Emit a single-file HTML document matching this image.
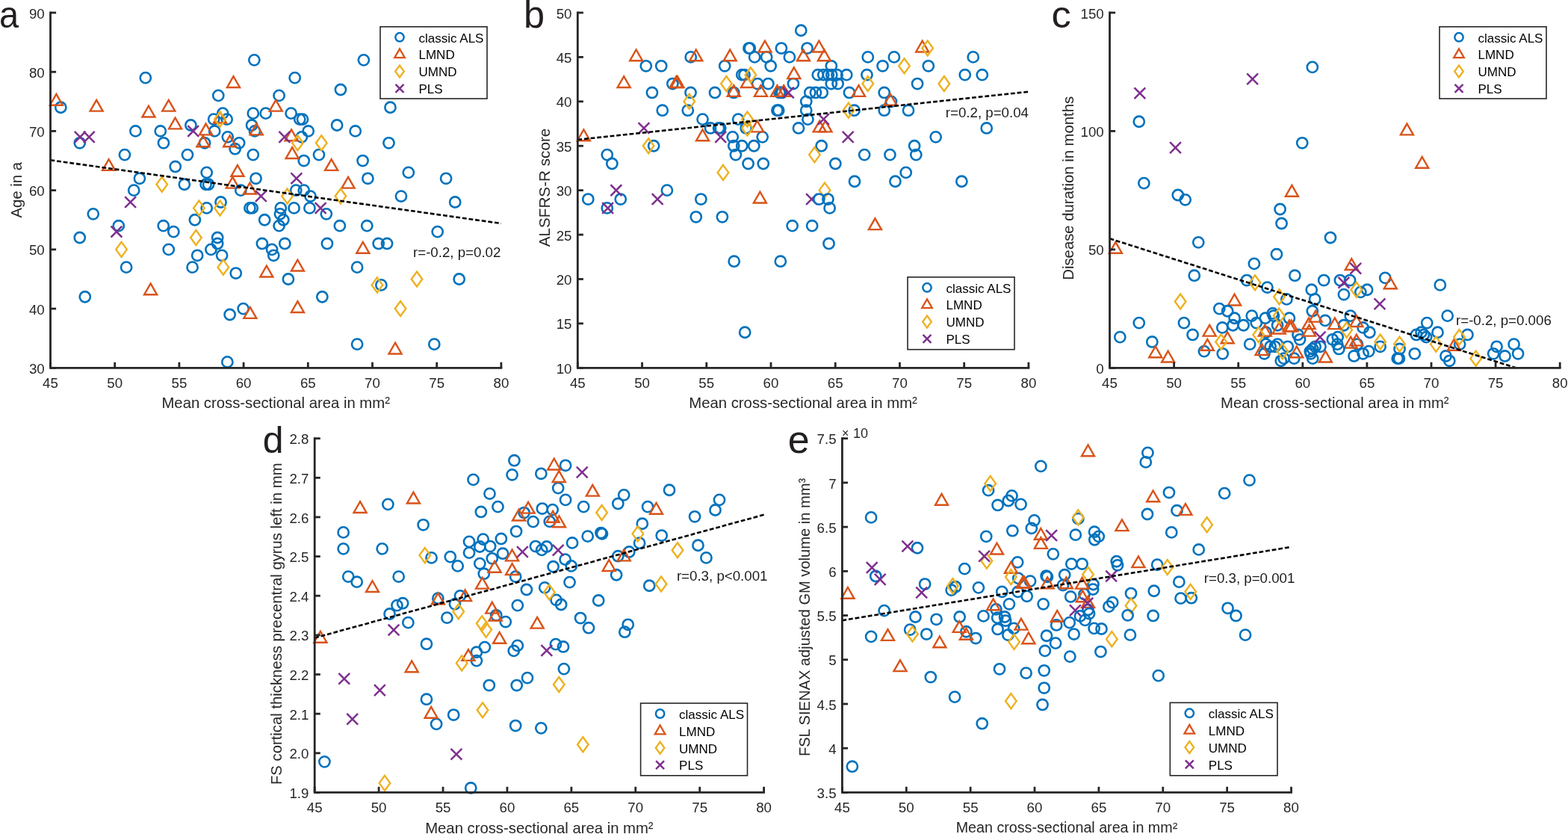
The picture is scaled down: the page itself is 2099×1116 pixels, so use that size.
<!DOCTYPE html>
<html><head><meta charset="utf-8"><title>Figure</title>
<style>html,body{margin:0;padding:0;background:#fff;} svg{display:block;}</style>
</head><body>
<svg width="2099" height="1116" viewBox="0 0 2099 1116" font-family="'Liberation Sans', Arial, sans-serif">
<rect width="2099" height="1116" fill="#fff"/>
<g><circle cx="81.30" cy="143.75" r="7.10" stroke="#0072BD" stroke-width="2.6" fill="none"/>
<circle cx="106.76" cy="191.28" r="7.10" stroke="#0072BD" stroke-width="2.6" fill="none"/>
<circle cx="194.80" cy="104.14" r="7.10" stroke="#0072BD" stroke-width="2.6" fill="none"/>
<circle cx="181.41" cy="175.43" r="7.10" stroke="#0072BD" stroke-width="2.6" fill="none"/>
<circle cx="166.92" cy="207.12" r="7.10" stroke="#0072BD" stroke-width="2.6" fill="none"/>
<circle cx="186.89" cy="238.81" r="7.10" stroke="#0072BD" stroke-width="2.6" fill="none"/>
<circle cx="179.21" cy="254.65" r="7.10" stroke="#0072BD" stroke-width="2.6" fill="none"/>
<circle cx="214.77" cy="175.43" r="7.10" stroke="#0072BD" stroke-width="2.6" fill="none"/>
<circle cx="218.95" cy="191.28" r="7.10" stroke="#0072BD" stroke-width="2.6" fill="none"/>
<circle cx="234.75" cy="222.96" r="7.10" stroke="#0072BD" stroke-width="2.6" fill="none"/>
<circle cx="246.83" cy="246.73" r="7.10" stroke="#0072BD" stroke-width="2.6" fill="none"/>
<circle cx="255.39" cy="167.51" r="7.10" stroke="#0072BD" stroke-width="2.6" fill="none"/>
<circle cx="251.00" cy="207.12" r="7.10" stroke="#0072BD" stroke-width="2.6" fill="none"/>
<circle cx="276.68" cy="230.88" r="7.10" stroke="#0072BD" stroke-width="2.6" fill="none"/>
<circle cx="275.59" cy="246.73" r="7.10" stroke="#0072BD" stroke-width="2.6" fill="none"/>
<circle cx="279.10" cy="246.73" r="7.10" stroke="#0072BD" stroke-width="2.6" fill="none"/>
<circle cx="274.05" cy="191.28" r="7.10" stroke="#0072BD" stroke-width="2.6" fill="none"/>
<circle cx="287.22" cy="175.43" r="7.10" stroke="#0072BD" stroke-width="2.6" fill="none"/>
<circle cx="286.13" cy="159.59" r="7.10" stroke="#0072BD" stroke-width="2.6" fill="none"/>
<circle cx="298.20" cy="151.67" r="7.10" stroke="#0072BD" stroke-width="2.6" fill="none"/>
<circle cx="303.69" cy="159.59" r="7.10" stroke="#0072BD" stroke-width="2.6" fill="none"/>
<circle cx="292.27" cy="127.90" r="7.10" stroke="#0072BD" stroke-width="2.6" fill="none"/>
<circle cx="304.79" cy="183.36" r="7.10" stroke="#0072BD" stroke-width="2.6" fill="none"/>
<circle cx="314.67" cy="199.20" r="7.10" stroke="#0072BD" stroke-width="2.6" fill="none"/>
<circle cx="320.15" cy="191.28" r="7.10" stroke="#0072BD" stroke-width="2.6" fill="none"/>
<circle cx="338.81" cy="151.67" r="7.10" stroke="#0072BD" stroke-width="2.6" fill="none"/>
<circle cx="337.06" cy="167.51" r="7.10" stroke="#0072BD" stroke-width="2.6" fill="none"/>
<circle cx="341.01" cy="175.43" r="7.10" stroke="#0072BD" stroke-width="2.6" fill="none"/>
<circle cx="340.35" cy="80.37" r="7.10" stroke="#0072BD" stroke-width="2.6" fill="none"/>
<circle cx="355.72" cy="151.67" r="7.10" stroke="#0072BD" stroke-width="2.6" fill="none"/>
<circle cx="338.81" cy="207.12" r="7.10" stroke="#0072BD" stroke-width="2.6" fill="none"/>
<circle cx="342.55" cy="238.81" r="7.10" stroke="#0072BD" stroke-width="2.6" fill="none"/>
<path d="M75.37 125.92L83.87 140.72L66.87 140.72Z" stroke="#D95319" stroke-width="2.4" fill="none" stroke-linejoin="miter" stroke-miterlimit="10"/>
<path d="M129.15 133.85L137.65 148.65L120.65 148.65Z" stroke="#D95319" stroke-width="2.4" fill="none" stroke-linejoin="miter" stroke-miterlimit="10"/>
<path d="M198.97 141.77L207.47 156.57L190.47 156.57Z" stroke="#D95319" stroke-width="2.4" fill="none" stroke-linejoin="miter" stroke-miterlimit="10"/>
<path d="M225.75 133.85L234.25 148.65L217.25 148.65Z" stroke="#D95319" stroke-width="2.4" fill="none" stroke-linejoin="miter" stroke-miterlimit="10"/>
<path d="M234.53 157.61L243.03 172.41L226.03 172.41Z" stroke="#D95319" stroke-width="2.4" fill="none" stroke-linejoin="miter" stroke-miterlimit="10"/>
<path d="M145.62 213.06L154.12 227.86L137.12 227.86Z" stroke="#D95319" stroke-width="2.4" fill="none" stroke-linejoin="miter" stroke-miterlimit="10"/>
<path d="M312.47 102.16L320.97 116.96L303.97 116.96Z" stroke="#D95319" stroke-width="2.4" fill="none" stroke-linejoin="miter" stroke-miterlimit="10"/>
<path d="M275.59 165.53L284.09 180.33L267.09 180.33Z" stroke="#D95319" stroke-width="2.4" fill="none" stroke-linejoin="miter" stroke-miterlimit="10"/>
<path d="M271.86 181.38L280.36 196.18L263.36 196.18Z" stroke="#D95319" stroke-width="2.4" fill="none" stroke-linejoin="miter" stroke-miterlimit="10"/>
<path d="M294.47 149.69L302.97 164.49L285.97 164.49Z" stroke="#D95319" stroke-width="2.4" fill="none" stroke-linejoin="miter" stroke-miterlimit="10"/>
<path d="M307.64 181.38L316.14 196.18L299.14 196.18Z" stroke="#D95319" stroke-width="2.4" fill="none" stroke-linejoin="miter" stroke-miterlimit="10"/>
<path d="M343.21 165.53L351.71 180.33L334.71 180.33Z" stroke="#D95319" stroke-width="2.4" fill="none" stroke-linejoin="miter" stroke-miterlimit="10"/>
<path d="M317.96 220.98L326.46 235.78L309.46 235.78Z" stroke="#D95319" stroke-width="2.4" fill="none" stroke-linejoin="miter" stroke-miterlimit="10"/>
<path d="M311.37 236.83L319.87 251.63L302.87 251.63Z" stroke="#D95319" stroke-width="2.4" fill="none" stroke-linejoin="miter" stroke-miterlimit="10"/>
<path d="M294.47 149.59L301.77 159.59L294.47 169.59L287.17 159.59Z" stroke="#EDB120" stroke-width="2.4" fill="none" stroke-linejoin="miter" stroke-miterlimit="10"/>
<path d="M216.75 236.73L224.05 246.73L216.75 256.73L209.45 246.73Z" stroke="#EDB120" stroke-width="2.4" fill="none" stroke-linejoin="miter" stroke-miterlimit="10"/>
<path d="M99.80 175.96L114.60 190.76M114.60 175.96L99.80 190.76" stroke="#7E2F8E" stroke-width="2.5" fill="none"/>
<path d="M111.88 175.96L126.68 190.76M126.68 175.96L111.88 190.76" stroke="#7E2F8E" stroke-width="2.5" fill="none"/>
<path d="M251.28 168.03L266.08 182.83M266.08 168.03L251.28 182.83" stroke="#7E2F8E" stroke-width="2.5" fill="none"/>
<circle cx="373.61" cy="127.90" r="7.10" stroke="#0072BD" stroke-width="2.6" fill="none"/>
<circle cx="394.69" cy="104.14" r="7.10" stroke="#0072BD" stroke-width="2.6" fill="none"/>
<circle cx="389.64" cy="151.67" r="7.10" stroke="#0072BD" stroke-width="2.6" fill="none"/>
<circle cx="401.27" cy="159.59" r="7.10" stroke="#0072BD" stroke-width="2.6" fill="none"/>
<circle cx="405.01" cy="159.59" r="7.10" stroke="#0072BD" stroke-width="2.6" fill="none"/>
<circle cx="412.69" cy="175.43" r="7.10" stroke="#0072BD" stroke-width="2.6" fill="none"/>
<circle cx="403.91" cy="183.36" r="7.10" stroke="#0072BD" stroke-width="2.6" fill="none"/>
<circle cx="406.76" cy="215.04" r="7.10" stroke="#0072BD" stroke-width="2.6" fill="none"/>
<circle cx="426.96" cy="207.12" r="7.10" stroke="#0072BD" stroke-width="2.6" fill="none"/>
<circle cx="451.11" cy="167.51" r="7.10" stroke="#0072BD" stroke-width="2.6" fill="none"/>
<circle cx="455.94" cy="119.98" r="7.10" stroke="#0072BD" stroke-width="2.6" fill="none"/>
<circle cx="475.70" cy="175.43" r="7.10" stroke="#0072BD" stroke-width="2.6" fill="none"/>
<circle cx="486.89" cy="80.37" r="7.10" stroke="#0072BD" stroke-width="2.6" fill="none"/>
<circle cx="522.46" cy="143.75" r="7.10" stroke="#0072BD" stroke-width="2.6" fill="none"/>
<circle cx="520.48" cy="191.28" r="7.10" stroke="#0072BD" stroke-width="2.6" fill="none"/>
<circle cx="485.58" cy="215.04" r="7.10" stroke="#0072BD" stroke-width="2.6" fill="none"/>
<circle cx="492.38" cy="238.81" r="7.10" stroke="#0072BD" stroke-width="2.6" fill="none"/>
<circle cx="546.83" cy="230.88" r="7.10" stroke="#0072BD" stroke-width="2.6" fill="none"/>
<circle cx="597.10" cy="238.81" r="7.10" stroke="#0072BD" stroke-width="2.6" fill="none"/>
<path d="M369.22 133.85L377.72 148.65L360.72 148.65Z" stroke="#D95319" stroke-width="2.4" fill="none" stroke-linejoin="miter" stroke-miterlimit="10"/>
<path d="M390.08 173.46L398.58 188.26L381.58 188.26Z" stroke="#D95319" stroke-width="2.4" fill="none" stroke-linejoin="miter" stroke-miterlimit="10"/>
<path d="M391.17 197.22L399.67 212.02L382.67 212.02Z" stroke="#D95319" stroke-width="2.4" fill="none" stroke-linejoin="miter" stroke-miterlimit="10"/>
<path d="M443.64 213.06L452.14 227.86L435.14 227.86Z" stroke="#D95319" stroke-width="2.4" fill="none" stroke-linejoin="miter" stroke-miterlimit="10"/>
<path d="M466.04 236.83L474.54 251.63L457.54 251.63Z" stroke="#D95319" stroke-width="2.4" fill="none" stroke-linejoin="miter" stroke-miterlimit="10"/>
<path d="M398.42 181.28L405.72 191.28L398.42 201.28L391.12 191.28Z" stroke="#EDB120" stroke-width="2.4" fill="none" stroke-linejoin="miter" stroke-miterlimit="10"/>
<path d="M430.25 181.28L437.55 191.28L430.25 201.28L422.95 191.28Z" stroke="#EDB120" stroke-width="2.4" fill="none" stroke-linejoin="miter" stroke-miterlimit="10"/>
<path d="M373.46 175.96L388.26 190.76M388.26 175.96L373.46 190.76" stroke="#7E2F8E" stroke-width="2.5" fill="none"/>
<path d="M389.48 231.41L404.28 246.21M404.28 231.41L389.48 246.21" stroke="#7E2F8E" stroke-width="2.5" fill="none"/>
<circle cx="322.35" cy="254.65" r="7.10" stroke="#0072BD" stroke-width="2.6" fill="none"/>
<circle cx="124.76" cy="286.34" r="7.10" stroke="#0072BD" stroke-width="2.6" fill="none"/>
<circle cx="106.76" cy="318.02" r="7.10" stroke="#0072BD" stroke-width="2.6" fill="none"/>
<circle cx="158.79" cy="302.18" r="7.10" stroke="#0072BD" stroke-width="2.6" fill="none"/>
<circle cx="169.11" cy="357.63" r="7.10" stroke="#0072BD" stroke-width="2.6" fill="none"/>
<circle cx="113.79" cy="397.24" r="7.10" stroke="#0072BD" stroke-width="2.6" fill="none"/>
<circle cx="218.73" cy="302.18" r="7.10" stroke="#0072BD" stroke-width="2.6" fill="none"/>
<circle cx="232.34" cy="310.10" r="7.10" stroke="#0072BD" stroke-width="2.6" fill="none"/>
<circle cx="225.75" cy="333.87" r="7.10" stroke="#0072BD" stroke-width="2.6" fill="none"/>
<circle cx="260.88" cy="294.26" r="7.10" stroke="#0072BD" stroke-width="2.6" fill="none"/>
<circle cx="276.68" cy="278.42" r="7.10" stroke="#0072BD" stroke-width="2.6" fill="none"/>
<circle cx="295.57" cy="270.49" r="7.10" stroke="#0072BD" stroke-width="2.6" fill="none"/>
<circle cx="291.17" cy="318.02" r="7.10" stroke="#0072BD" stroke-width="2.6" fill="none"/>
<circle cx="291.17" cy="325.94" r="7.10" stroke="#0072BD" stroke-width="2.6" fill="none"/>
<circle cx="282.39" cy="333.87" r="7.10" stroke="#0072BD" stroke-width="2.6" fill="none"/>
<circle cx="297.10" cy="341.79" r="7.10" stroke="#0072BD" stroke-width="2.6" fill="none"/>
<circle cx="264.17" cy="341.79" r="7.10" stroke="#0072BD" stroke-width="2.6" fill="none"/>
<circle cx="257.59" cy="357.63" r="7.10" stroke="#0072BD" stroke-width="2.6" fill="none"/>
<circle cx="315.76" cy="365.55" r="7.10" stroke="#0072BD" stroke-width="2.6" fill="none"/>
<circle cx="334.42" cy="278.42" r="7.10" stroke="#0072BD" stroke-width="2.6" fill="none"/>
<circle cx="337.72" cy="278.42" r="7.10" stroke="#0072BD" stroke-width="2.6" fill="none"/>
<circle cx="354.18" cy="294.26" r="7.10" stroke="#0072BD" stroke-width="2.6" fill="none"/>
<circle cx="350.89" cy="325.94" r="7.10" stroke="#0072BD" stroke-width="2.6" fill="none"/>
<circle cx="364.06" cy="333.87" r="7.10" stroke="#0072BD" stroke-width="2.6" fill="none"/>
<circle cx="366.26" cy="341.79" r="7.10" stroke="#0072BD" stroke-width="2.6" fill="none"/>
<circle cx="307.64" cy="421.00" r="7.10" stroke="#0072BD" stroke-width="2.6" fill="none"/>
<circle cx="325.64" cy="413.08" r="7.10" stroke="#0072BD" stroke-width="2.6" fill="none"/>
<circle cx="304.35" cy="484.38" r="7.10" stroke="#0072BD" stroke-width="2.6" fill="none"/>
<path d="M201.60 379.42L210.10 394.22L193.10 394.22Z" stroke="#D95319" stroke-width="2.4" fill="none" stroke-linejoin="miter" stroke-miterlimit="10"/>
<path d="M356.82 355.65L365.32 370.45L348.32 370.45Z" stroke="#D95319" stroke-width="2.4" fill="none" stroke-linejoin="miter" stroke-miterlimit="10"/>
<path d="M334.86 411.11L343.36 425.90L326.36 425.90Z" stroke="#D95319" stroke-width="2.4" fill="none" stroke-linejoin="miter" stroke-miterlimit="10"/>
<path d="M334.42 244.75L342.92 259.55L325.92 259.55Z" stroke="#D95319" stroke-width="2.4" fill="none" stroke-linejoin="miter" stroke-miterlimit="10"/>
<path d="M162.52 323.87L169.82 333.87L162.52 343.87L155.22 333.87Z" stroke="#EDB120" stroke-width="2.4" fill="none" stroke-linejoin="miter" stroke-miterlimit="10"/>
<path d="M266.37 268.42L273.67 278.42L266.37 288.42L259.07 278.42Z" stroke="#EDB120" stroke-width="2.4" fill="none" stroke-linejoin="miter" stroke-miterlimit="10"/>
<path d="M294.47 268.42L301.77 278.42L294.47 288.42L287.17 278.42Z" stroke="#EDB120" stroke-width="2.4" fill="none" stroke-linejoin="miter" stroke-miterlimit="10"/>
<path d="M262.41 308.02L269.71 318.02L262.41 328.02L255.11 318.02Z" stroke="#EDB120" stroke-width="2.4" fill="none" stroke-linejoin="miter" stroke-miterlimit="10"/>
<path d="M298.86 347.63L306.16 357.63L298.86 367.63L291.56 357.63Z" stroke="#EDB120" stroke-width="2.4" fill="none" stroke-linejoin="miter" stroke-miterlimit="10"/>
<path d="M167.20 263.09L182.00 277.89M182.00 263.09L167.20 277.89" stroke="#7E2F8E" stroke-width="2.5" fill="none"/>
<path d="M148.54 302.70L163.34 317.50M163.34 302.70L148.54 317.50" stroke="#7E2F8E" stroke-width="2.5" fill="none"/>
<path d="M341.95 255.17L356.75 269.97M356.75 255.17L341.95 269.97" stroke="#7E2F8E" stroke-width="2.5" fill="none"/>
<circle cx="396.22" cy="254.65" r="7.10" stroke="#0072BD" stroke-width="2.6" fill="none"/>
<circle cx="406.76" cy="254.65" r="7.10" stroke="#0072BD" stroke-width="2.6" fill="none"/>
<circle cx="415.54" cy="262.57" r="7.10" stroke="#0072BD" stroke-width="2.6" fill="none"/>
<circle cx="375.81" cy="278.42" r="7.10" stroke="#0072BD" stroke-width="2.6" fill="none"/>
<circle cx="374.93" cy="286.34" r="7.10" stroke="#0072BD" stroke-width="2.6" fill="none"/>
<circle cx="379.32" cy="294.26" r="7.10" stroke="#0072BD" stroke-width="2.6" fill="none"/>
<circle cx="373.61" cy="302.18" r="7.10" stroke="#0072BD" stroke-width="2.6" fill="none"/>
<circle cx="393.59" cy="278.42" r="7.10" stroke="#0072BD" stroke-width="2.6" fill="none"/>
<circle cx="414.45" cy="278.42" r="7.10" stroke="#0072BD" stroke-width="2.6" fill="none"/>
<circle cx="436.84" cy="286.34" r="7.10" stroke="#0072BD" stroke-width="2.6" fill="none"/>
<circle cx="454.84" cy="302.18" r="7.10" stroke="#0072BD" stroke-width="2.6" fill="none"/>
<circle cx="491.28" cy="302.18" r="7.10" stroke="#0072BD" stroke-width="2.6" fill="none"/>
<circle cx="536.95" cy="262.57" r="7.10" stroke="#0072BD" stroke-width="2.6" fill="none"/>
<circle cx="609.18" cy="270.49" r="7.10" stroke="#0072BD" stroke-width="2.6" fill="none"/>
<circle cx="585.69" cy="310.10" r="7.10" stroke="#0072BD" stroke-width="2.6" fill="none"/>
<circle cx="381.30" cy="325.94" r="7.10" stroke="#0072BD" stroke-width="2.6" fill="none"/>
<circle cx="437.94" cy="325.94" r="7.10" stroke="#0072BD" stroke-width="2.6" fill="none"/>
<circle cx="506.65" cy="325.94" r="7.10" stroke="#0072BD" stroke-width="2.6" fill="none"/>
<circle cx="518.07" cy="325.94" r="7.10" stroke="#0072BD" stroke-width="2.6" fill="none"/>
<circle cx="478.11" cy="357.63" r="7.10" stroke="#0072BD" stroke-width="2.6" fill="none"/>
<circle cx="385.91" cy="373.48" r="7.10" stroke="#0072BD" stroke-width="2.6" fill="none"/>
<circle cx="510.38" cy="381.40" r="7.10" stroke="#0072BD" stroke-width="2.6" fill="none"/>
<circle cx="431.35" cy="397.24" r="7.10" stroke="#0072BD" stroke-width="2.6" fill="none"/>
<circle cx="614.67" cy="373.48" r="7.10" stroke="#0072BD" stroke-width="2.6" fill="none"/>
<circle cx="478.11" cy="460.61" r="7.10" stroke="#0072BD" stroke-width="2.6" fill="none"/>
<circle cx="581.30" cy="460.61" r="7.10" stroke="#0072BD" stroke-width="2.6" fill="none"/>
<path d="M485.80 323.97L494.30 338.77L477.30 338.77Z" stroke="#D95319" stroke-width="2.4" fill="none" stroke-linejoin="miter" stroke-miterlimit="10"/>
<path d="M398.42 347.73L406.92 362.53L389.92 362.53Z" stroke="#D95319" stroke-width="2.4" fill="none" stroke-linejoin="miter" stroke-miterlimit="10"/>
<path d="M398.42 403.18L406.92 417.98L389.92 417.98Z" stroke="#D95319" stroke-width="2.4" fill="none" stroke-linejoin="miter" stroke-miterlimit="10"/>
<path d="M529.05 458.64L537.55 473.44L520.55 473.44Z" stroke="#D95319" stroke-width="2.4" fill="none" stroke-linejoin="miter" stroke-miterlimit="10"/>
<path d="M384.59 252.57L391.89 262.57L384.59 272.57L377.29 262.57Z" stroke="#EDB120" stroke-width="2.4" fill="none" stroke-linejoin="miter" stroke-miterlimit="10"/>
<path d="M455.94 252.57L463.24 262.57L455.94 272.57L448.64 262.57Z" stroke="#EDB120" stroke-width="2.4" fill="none" stroke-linejoin="miter" stroke-miterlimit="10"/>
<path d="M504.90 371.40L512.20 381.40L504.90 391.40L497.60 381.40Z" stroke="#EDB120" stroke-width="2.4" fill="none" stroke-linejoin="miter" stroke-miterlimit="10"/>
<path d="M558.02 363.48L565.32 373.48L558.02 383.48L550.72 373.48Z" stroke="#EDB120" stroke-width="2.4" fill="none" stroke-linejoin="miter" stroke-miterlimit="10"/>
<path d="M536.07 403.08L543.37 413.08L536.07 423.08L528.77 413.08Z" stroke="#EDB120" stroke-width="2.4" fill="none" stroke-linejoin="miter" stroke-miterlimit="10"/>
<path d="M421.75 271.02L436.55 285.81M436.55 271.02L421.75 285.81" stroke="#7E2F8E" stroke-width="2.5" fill="none"/>
<line x1="67.50" y1="214.25" x2="670.90" y2="299.01" stroke="#000" stroke-width="2.6" stroke-dasharray="5.8 2.9"/>
<path d="M67.50 15.60V492.30H672.30" stroke="#262626" stroke-width="2.8" fill="none" stroke-linejoin="miter"/>
<line x1="67.50" y1="492.30" x2="75.10" y2="492.30" stroke="#262626" stroke-width="2.8"/>
<text x="59.70" y="499.90" font-size="18.7" fill="#262626" text-anchor="end">30</text>
<line x1="67.50" y1="413.08" x2="75.10" y2="413.08" stroke="#262626" stroke-width="2.8"/>
<text x="59.70" y="420.68" font-size="18.7" fill="#262626" text-anchor="end">40</text>
<line x1="67.50" y1="333.87" x2="75.10" y2="333.87" stroke="#262626" stroke-width="2.8"/>
<text x="59.70" y="341.47" font-size="18.7" fill="#262626" text-anchor="end">50</text>
<line x1="67.50" y1="254.65" x2="75.10" y2="254.65" stroke="#262626" stroke-width="2.8"/>
<text x="59.70" y="262.25" font-size="18.7" fill="#262626" text-anchor="end">60</text>
<line x1="67.50" y1="175.43" x2="75.10" y2="175.43" stroke="#262626" stroke-width="2.8"/>
<text x="59.70" y="183.03" font-size="18.7" fill="#262626" text-anchor="end">70</text>
<line x1="67.50" y1="96.22" x2="75.10" y2="96.22" stroke="#262626" stroke-width="2.8"/>
<text x="59.70" y="103.82" font-size="18.7" fill="#262626" text-anchor="end">80</text>
<line x1="67.50" y1="17.00" x2="75.10" y2="17.00" stroke="#262626" stroke-width="2.8"/>
<text x="59.70" y="24.60" font-size="18.7" fill="#262626" text-anchor="end">90</text>
<line x1="67.50" y1="492.30" x2="67.50" y2="484.70" stroke="#262626" stroke-width="2.8"/>
<text x="67.50" y="519.10" font-size="18.7" fill="#262626" text-anchor="middle">45</text>
<line x1="153.70" y1="492.30" x2="153.70" y2="484.70" stroke="#262626" stroke-width="2.8"/>
<text x="153.70" y="519.10" font-size="18.7" fill="#262626" text-anchor="middle">50</text>
<line x1="239.90" y1="492.30" x2="239.90" y2="484.70" stroke="#262626" stroke-width="2.8"/>
<text x="239.90" y="519.10" font-size="18.7" fill="#262626" text-anchor="middle">55</text>
<line x1="326.10" y1="492.30" x2="326.10" y2="484.70" stroke="#262626" stroke-width="2.8"/>
<text x="326.10" y="519.10" font-size="18.7" fill="#262626" text-anchor="middle">60</text>
<line x1="412.30" y1="492.30" x2="412.30" y2="484.70" stroke="#262626" stroke-width="2.8"/>
<text x="412.30" y="519.10" font-size="18.7" fill="#262626" text-anchor="middle">65</text>
<line x1="498.50" y1="492.30" x2="498.50" y2="484.70" stroke="#262626" stroke-width="2.8"/>
<text x="498.50" y="519.10" font-size="18.7" fill="#262626" text-anchor="middle">70</text>
<line x1="584.70" y1="492.30" x2="584.70" y2="484.70" stroke="#262626" stroke-width="2.8"/>
<text x="584.70" y="519.10" font-size="18.7" fill="#262626" text-anchor="middle">75</text>
<line x1="670.90" y1="492.30" x2="670.90" y2="484.70" stroke="#262626" stroke-width="2.8"/>
<text x="670.90" y="519.10" font-size="18.7" fill="#262626" text-anchor="middle">80</text>
<text x="369.20" y="546.30" font-size="20.3" fill="#262626" text-anchor="middle">Mean cross-sectional area in mm²</text>
<text transform="translate(29.10 254.20) rotate(-90)" font-size="20.3" fill="#262626" text-anchor="middle">Age in a</text>
<text transform="translate(-1.0 36.6) scale(0.93 1)" font-size="50.5" fill="#231f20">a</text>
<text x="553.0" y="344.3" font-size="18.7" fill="#1a1a1a">r=-0.2, p=0.02</text>
<rect x="509" y="35.8" width="143" height="96.2" fill="#fff" stroke="#262626" stroke-width="1.6"/>
<circle cx="535.00" cy="49.80" r="5.68" stroke="#0072BD" stroke-width="2.5" fill="none"/>
<text x="560.5" y="56.60" font-size="17" fill="#000">classic ALS</text>
<path d="M535.00 65.33L541.80 77.17L528.20 77.17Z" stroke="#D95319" stroke-width="2.3" fill="none" stroke-linejoin="miter" stroke-miterlimit="10"/>
<text x="560.5" y="79.45" font-size="17" fill="#000">LMND</text>
<path d="M535.00 87.50L540.84 95.50L535.00 103.50L529.16 95.50Z" stroke="#EDB120" stroke-width="2.3" fill="none" stroke-linejoin="miter" stroke-miterlimit="10"/>
<text x="560.5" y="102.30" font-size="17" fill="#000">UMND</text>
<path d="M529.52 112.87L540.48 123.83M540.48 112.87L529.52 123.83" stroke="#7E2F8E" stroke-width="2.5" fill="none"/>
<text x="560.5" y="125.15" font-size="17" fill="#000">PLS</text></g>
<g><circle cx="1072.26" cy="40.76" r="7.10" stroke="#0072BD" stroke-width="2.6" fill="none"/>
<circle cx="1002.44" cy="64.53" r="7.10" stroke="#0072BD" stroke-width="2.6" fill="none"/>
<circle cx="1003.76" cy="64.53" r="7.10" stroke="#0072BD" stroke-width="2.6" fill="none"/>
<circle cx="1045.91" cy="64.53" r="7.10" stroke="#0072BD" stroke-width="2.6" fill="none"/>
<circle cx="1010.13" cy="76.41" r="7.10" stroke="#0072BD" stroke-width="2.6" fill="none"/>
<circle cx="1026.15" cy="76.41" r="7.10" stroke="#0072BD" stroke-width="2.6" fill="none"/>
<circle cx="1056.89" cy="76.41" r="7.10" stroke="#0072BD" stroke-width="2.6" fill="none"/>
<circle cx="924.73" cy="76.41" r="7.10" stroke="#0072BD" stroke-width="2.6" fill="none"/>
<circle cx="864.79" cy="88.30" r="7.10" stroke="#0072BD" stroke-width="2.6" fill="none"/>
<circle cx="885.21" cy="88.30" r="7.10" stroke="#0072BD" stroke-width="2.6" fill="none"/>
<circle cx="970.17" cy="88.30" r="7.10" stroke="#0072BD" stroke-width="2.6" fill="none"/>
<circle cx="1031.64" cy="88.30" r="7.10" stroke="#0072BD" stroke-width="2.6" fill="none"/>
<circle cx="993.22" cy="100.18" r="7.10" stroke="#0072BD" stroke-width="2.6" fill="none"/>
<circle cx="996.52" cy="100.18" r="7.10" stroke="#0072BD" stroke-width="2.6" fill="none"/>
<circle cx="900.36" cy="112.06" r="7.10" stroke="#0072BD" stroke-width="2.6" fill="none"/>
<circle cx="1014.08" cy="112.06" r="7.10" stroke="#0072BD" stroke-width="2.6" fill="none"/>
<circle cx="1028.35" cy="112.06" r="7.10" stroke="#0072BD" stroke-width="2.6" fill="none"/>
<circle cx="1061.94" cy="112.06" r="7.10" stroke="#0072BD" stroke-width="2.6" fill="none"/>
<circle cx="872.92" cy="123.94" r="7.10" stroke="#0072BD" stroke-width="2.6" fill="none"/>
<circle cx="924.51" cy="123.94" r="7.10" stroke="#0072BD" stroke-width="2.6" fill="none"/>
<circle cx="957.00" cy="123.94" r="7.10" stroke="#0072BD" stroke-width="2.6" fill="none"/>
<circle cx="982.25" cy="123.94" r="7.10" stroke="#0072BD" stroke-width="2.6" fill="none"/>
<circle cx="1043.50" cy="123.94" r="7.10" stroke="#0072BD" stroke-width="2.6" fill="none"/>
<circle cx="1045.03" cy="123.94" r="7.10" stroke="#0072BD" stroke-width="2.6" fill="none"/>
<circle cx="1046.79" cy="123.94" r="7.10" stroke="#0072BD" stroke-width="2.6" fill="none"/>
<circle cx="886.75" cy="147.71" r="7.10" stroke="#0072BD" stroke-width="2.6" fill="none"/>
<circle cx="920.77" cy="147.71" r="7.10" stroke="#0072BD" stroke-width="2.6" fill="none"/>
<circle cx="1040.42" cy="147.71" r="7.10" stroke="#0072BD" stroke-width="2.6" fill="none"/>
<circle cx="1042.18" cy="147.71" r="7.10" stroke="#0072BD" stroke-width="2.6" fill="none"/>
<circle cx="940.53" cy="159.59" r="7.10" stroke="#0072BD" stroke-width="2.6" fill="none"/>
<circle cx="988.17" cy="159.59" r="7.10" stroke="#0072BD" stroke-width="2.6" fill="none"/>
<circle cx="951.07" cy="171.47" r="7.10" stroke="#0072BD" stroke-width="2.6" fill="none"/>
<circle cx="962.05" cy="171.47" r="7.10" stroke="#0072BD" stroke-width="2.6" fill="none"/>
<circle cx="964.24" cy="171.47" r="7.10" stroke="#0072BD" stroke-width="2.6" fill="none"/>
<circle cx="998.71" cy="171.47" r="7.10" stroke="#0072BD" stroke-width="2.6" fill="none"/>
<circle cx="1068.96" cy="171.47" r="7.10" stroke="#0072BD" stroke-width="2.6" fill="none"/>
<circle cx="980.71" cy="183.36" r="7.10" stroke="#0072BD" stroke-width="2.6" fill="none"/>
<circle cx="1020.67" cy="183.36" r="7.10" stroke="#0072BD" stroke-width="2.6" fill="none"/>
<circle cx="875.11" cy="195.24" r="7.10" stroke="#0072BD" stroke-width="2.6" fill="none"/>
<circle cx="982.25" cy="195.24" r="7.10" stroke="#0072BD" stroke-width="2.6" fill="none"/>
<circle cx="993.22" cy="195.24" r="7.10" stroke="#0072BD" stroke-width="2.6" fill="none"/>
<circle cx="1009.25" cy="195.24" r="7.10" stroke="#0072BD" stroke-width="2.6" fill="none"/>
<circle cx="812.76" cy="207.12" r="7.10" stroke="#0072BD" stroke-width="2.6" fill="none"/>
<circle cx="984.88" cy="207.12" r="7.10" stroke="#0072BD" stroke-width="2.6" fill="none"/>
<circle cx="819.35" cy="219.00" r="7.10" stroke="#0072BD" stroke-width="2.6" fill="none"/>
<circle cx="1001.57" cy="219.00" r="7.10" stroke="#0072BD" stroke-width="2.6" fill="none"/>
<circle cx="1021.76" cy="219.00" r="7.10" stroke="#0072BD" stroke-width="2.6" fill="none"/>
<path d="M781.37 173.46L789.87 188.26L772.87 188.26Z" stroke="#D95319" stroke-width="2.4" fill="none" stroke-linejoin="miter" stroke-miterlimit="10"/>
<path d="M851.62 66.51L860.12 81.31L843.12 81.31Z" stroke="#D95319" stroke-width="2.4" fill="none" stroke-linejoin="miter" stroke-miterlimit="10"/>
<path d="M835.15 102.16L843.65 116.96L826.65 116.96Z" stroke="#D95319" stroke-width="2.4" fill="none" stroke-linejoin="miter" stroke-miterlimit="10"/>
<path d="M905.19 102.16L913.69 116.96L896.69 116.96Z" stroke="#D95319" stroke-width="2.4" fill="none" stroke-linejoin="miter" stroke-miterlimit="10"/>
<path d="M906.94 102.16L915.44 116.96L898.44 116.96Z" stroke="#D95319" stroke-width="2.4" fill="none" stroke-linejoin="miter" stroke-miterlimit="10"/>
<path d="M931.75 66.51L940.25 81.31L923.25 81.31Z" stroke="#D95319" stroke-width="2.4" fill="none" stroke-linejoin="miter" stroke-miterlimit="10"/>
<path d="M977.20 66.51L985.70 81.31L968.70 81.31Z" stroke="#D95319" stroke-width="2.4" fill="none" stroke-linejoin="miter" stroke-miterlimit="10"/>
<path d="M1023.96 54.63L1032.46 69.43L1015.46 69.43Z" stroke="#D95319" stroke-width="2.4" fill="none" stroke-linejoin="miter" stroke-miterlimit="10"/>
<path d="M1062.82 90.28L1071.32 105.08L1054.32 105.08Z" stroke="#D95319" stroke-width="2.4" fill="none" stroke-linejoin="miter" stroke-miterlimit="10"/>
<path d="M1000.47 102.16L1008.97 116.96L991.97 116.96Z" stroke="#D95319" stroke-width="2.4" fill="none" stroke-linejoin="miter" stroke-miterlimit="10"/>
<path d="M982.25 114.04L990.75 128.84L973.75 128.84Z" stroke="#D95319" stroke-width="2.4" fill="none" stroke-linejoin="miter" stroke-miterlimit="10"/>
<path d="M1018.47 114.04L1026.97 128.84L1009.97 128.84Z" stroke="#D95319" stroke-width="2.4" fill="none" stroke-linejoin="miter" stroke-miterlimit="10"/>
<path d="M1040.42 114.04L1048.92 128.84L1031.92 128.84Z" stroke="#D95319" stroke-width="2.4" fill="none" stroke-linejoin="miter" stroke-miterlimit="10"/>
<path d="M1049.21 114.04L1057.71 128.84L1040.71 128.84Z" stroke="#D95319" stroke-width="2.4" fill="none" stroke-linejoin="miter" stroke-miterlimit="10"/>
<path d="M940.53 173.46L949.03 188.26L932.03 188.26Z" stroke="#D95319" stroke-width="2.4" fill="none" stroke-linejoin="miter" stroke-miterlimit="10"/>
<path d="M1013.64 161.57L1022.14 176.37L1005.14 176.37Z" stroke="#D95319" stroke-width="2.4" fill="none" stroke-linejoin="miter" stroke-miterlimit="10"/>
<path d="M1004.86 90.18L1012.16 100.18L1004.86 110.18L997.56 100.18Z" stroke="#EDB120" stroke-width="2.4" fill="none" stroke-linejoin="miter" stroke-miterlimit="10"/>
<path d="M972.37 102.06L979.67 112.06L972.37 122.06L965.07 112.06Z" stroke="#EDB120" stroke-width="2.4" fill="none" stroke-linejoin="miter" stroke-miterlimit="10"/>
<path d="M922.75 125.82L930.05 135.82L922.75 145.82L915.45 135.82Z" stroke="#EDB120" stroke-width="2.4" fill="none" stroke-linejoin="miter" stroke-miterlimit="10"/>
<path d="M1000.47 149.59L1007.77 159.59L1000.47 169.59L993.17 159.59Z" stroke="#EDB120" stroke-width="2.4" fill="none" stroke-linejoin="miter" stroke-miterlimit="10"/>
<path d="M1000.47 161.47L1007.77 171.47L1000.47 181.47L993.17 171.47Z" stroke="#EDB120" stroke-width="2.4" fill="none" stroke-linejoin="miter" stroke-miterlimit="10"/>
<path d="M868.09 185.24L875.39 195.24L868.09 205.24L860.79 195.24Z" stroke="#EDB120" stroke-width="2.4" fill="none" stroke-linejoin="miter" stroke-miterlimit="10"/>
<path d="M967.98 220.88L975.28 230.88L967.98 240.88L960.68 230.88Z" stroke="#EDB120" stroke-width="2.4" fill="none" stroke-linejoin="miter" stroke-miterlimit="10"/>
<path d="M854.54 164.07L869.34 178.87M869.34 164.07L854.54 178.87" stroke="#7E2F8E" stroke-width="2.5" fill="none"/>
<path d="M957.28 175.96L972.08 190.76M972.08 175.96L957.28 190.76" stroke="#7E2F8E" stroke-width="2.5" fill="none"/>
<path d="M1047.95 116.54L1062.75 131.34M1062.75 116.54L1047.95 131.34" stroke="#7E2F8E" stroke-width="2.5" fill="none"/>
<circle cx="1080.54" cy="64.53" r="7.10" stroke="#0072BD" stroke-width="2.6" fill="none"/>
<circle cx="1161.77" cy="76.41" r="7.10" stroke="#0072BD" stroke-width="2.6" fill="none"/>
<circle cx="1196.89" cy="76.41" r="7.10" stroke="#0072BD" stroke-width="2.6" fill="none"/>
<circle cx="1302.71" cy="76.41" r="7.10" stroke="#0072BD" stroke-width="2.6" fill="none"/>
<circle cx="1112.81" cy="88.30" r="7.10" stroke="#0072BD" stroke-width="2.6" fill="none"/>
<circle cx="1181.53" cy="88.30" r="7.10" stroke="#0072BD" stroke-width="2.6" fill="none"/>
<circle cx="1242.78" cy="88.30" r="7.10" stroke="#0072BD" stroke-width="2.6" fill="none"/>
<circle cx="1094.81" cy="100.18" r="7.10" stroke="#0072BD" stroke-width="2.6" fill="none"/>
<circle cx="1102.27" cy="100.18" r="7.10" stroke="#0072BD" stroke-width="2.6" fill="none"/>
<circle cx="1108.86" cy="100.18" r="7.10" stroke="#0072BD" stroke-width="2.6" fill="none"/>
<circle cx="1113.25" cy="100.18" r="7.10" stroke="#0072BD" stroke-width="2.6" fill="none"/>
<circle cx="1120.49" cy="100.18" r="7.10" stroke="#0072BD" stroke-width="2.6" fill="none"/>
<circle cx="1133.23" cy="100.18" r="7.10" stroke="#0072BD" stroke-width="2.6" fill="none"/>
<circle cx="1160.45" cy="100.18" r="7.10" stroke="#0072BD" stroke-width="2.6" fill="none"/>
<circle cx="1291.73" cy="100.18" r="7.10" stroke="#0072BD" stroke-width="2.6" fill="none"/>
<circle cx="1314.79" cy="100.18" r="7.10" stroke="#0072BD" stroke-width="2.6" fill="none"/>
<circle cx="1112.81" cy="112.06" r="7.10" stroke="#0072BD" stroke-width="2.6" fill="none"/>
<circle cx="1121.59" cy="112.06" r="7.10" stroke="#0072BD" stroke-width="2.6" fill="none"/>
<circle cx="1228.07" cy="112.06" r="7.10" stroke="#0072BD" stroke-width="2.6" fill="none"/>
<circle cx="1084.27" cy="123.94" r="7.10" stroke="#0072BD" stroke-width="2.6" fill="none"/>
<circle cx="1091.95" cy="123.94" r="7.10" stroke="#0072BD" stroke-width="2.6" fill="none"/>
<circle cx="1100.74" cy="123.94" r="7.10" stroke="#0072BD" stroke-width="2.6" fill="none"/>
<circle cx="1136.96" cy="123.94" r="7.10" stroke="#0072BD" stroke-width="2.6" fill="none"/>
<circle cx="1183.72" cy="123.94" r="7.10" stroke="#0072BD" stroke-width="2.6" fill="none"/>
<circle cx="1079.22" cy="135.82" r="7.10" stroke="#0072BD" stroke-width="2.6" fill="none"/>
<circle cx="1192.94" cy="135.82" r="7.10" stroke="#0072BD" stroke-width="2.6" fill="none"/>
<circle cx="1079.22" cy="147.71" r="7.10" stroke="#0072BD" stroke-width="2.6" fill="none"/>
<circle cx="1143.55" cy="147.71" r="7.10" stroke="#0072BD" stroke-width="2.6" fill="none"/>
<circle cx="1183.72" cy="147.71" r="7.10" stroke="#0072BD" stroke-width="2.6" fill="none"/>
<circle cx="1215.99" cy="147.71" r="7.10" stroke="#0072BD" stroke-width="2.6" fill="none"/>
<circle cx="1081.42" cy="159.59" r="7.10" stroke="#0072BD" stroke-width="2.6" fill="none"/>
<circle cx="1320.71" cy="171.47" r="7.10" stroke="#0072BD" stroke-width="2.6" fill="none"/>
<circle cx="1252.66" cy="183.36" r="7.10" stroke="#0072BD" stroke-width="2.6" fill="none"/>
<circle cx="1099.64" cy="195.24" r="7.10" stroke="#0072BD" stroke-width="2.6" fill="none"/>
<circle cx="1224.12" cy="195.24" r="7.10" stroke="#0072BD" stroke-width="2.6" fill="none"/>
<circle cx="1157.16" cy="207.12" r="7.10" stroke="#0072BD" stroke-width="2.6" fill="none"/>
<circle cx="1191.41" cy="207.12" r="7.10" stroke="#0072BD" stroke-width="2.6" fill="none"/>
<circle cx="1226.31" cy="207.12" r="7.10" stroke="#0072BD" stroke-width="2.6" fill="none"/>
<circle cx="1118.30" cy="219.00" r="7.10" stroke="#0072BD" stroke-width="2.6" fill="none"/>
<circle cx="1212.70" cy="230.88" r="7.10" stroke="#0072BD" stroke-width="2.6" fill="none"/>
<circle cx="1143.98" cy="242.77" r="7.10" stroke="#0072BD" stroke-width="2.6" fill="none"/>
<circle cx="1198.43" cy="242.77" r="7.10" stroke="#0072BD" stroke-width="2.6" fill="none"/>
<circle cx="1287.34" cy="242.77" r="7.10" stroke="#0072BD" stroke-width="2.6" fill="none"/>
<path d="M1096.34 54.63L1104.84 69.43L1087.84 69.43Z" stroke="#D95319" stroke-width="2.4" fill="none" stroke-linejoin="miter" stroke-miterlimit="10"/>
<path d="M1075.49 66.51L1083.99 81.31L1066.99 81.31Z" stroke="#D95319" stroke-width="2.4" fill="none" stroke-linejoin="miter" stroke-miterlimit="10"/>
<path d="M1103.37 66.51L1111.87 81.31L1094.87 81.31Z" stroke="#D95319" stroke-width="2.4" fill="none" stroke-linejoin="miter" stroke-miterlimit="10"/>
<path d="M1234.65 54.63L1243.15 69.43L1226.15 69.43Z" stroke="#D95319" stroke-width="2.4" fill="none" stroke-linejoin="miter" stroke-miterlimit="10"/>
<path d="M1149.47 114.04L1157.97 128.84L1140.97 128.84Z" stroke="#D95319" stroke-width="2.4" fill="none" stroke-linejoin="miter" stroke-miterlimit="10"/>
<path d="M1191.84 125.92L1200.34 140.72L1183.34 140.72Z" stroke="#D95319" stroke-width="2.4" fill="none" stroke-linejoin="miter" stroke-miterlimit="10"/>
<path d="M1097.22 161.57L1105.72 176.37L1088.72 176.37Z" stroke="#D95319" stroke-width="2.4" fill="none" stroke-linejoin="miter" stroke-miterlimit="10"/>
<path d="M1104.91 161.57L1113.41 176.37L1096.41 176.37Z" stroke="#D95319" stroke-width="2.4" fill="none" stroke-linejoin="miter" stroke-miterlimit="10"/>
<path d="M1241.68 54.53L1248.98 64.53L1241.68 74.53L1234.38 64.53Z" stroke="#EDB120" stroke-width="2.4" fill="none" stroke-linejoin="miter" stroke-miterlimit="10"/>
<path d="M1210.50 78.30L1217.80 88.30L1210.50 98.30L1203.20 88.30Z" stroke="#EDB120" stroke-width="2.4" fill="none" stroke-linejoin="miter" stroke-miterlimit="10"/>
<path d="M1161.77 102.06L1169.07 112.06L1161.77 122.06L1154.47 112.06Z" stroke="#EDB120" stroke-width="2.4" fill="none" stroke-linejoin="miter" stroke-miterlimit="10"/>
<path d="M1263.85 102.06L1271.15 112.06L1263.85 122.06L1256.55 112.06Z" stroke="#EDB120" stroke-width="2.4" fill="none" stroke-linejoin="miter" stroke-miterlimit="10"/>
<path d="M1135.86 137.71L1143.16 147.71L1135.86 157.71L1128.56 147.71Z" stroke="#EDB120" stroke-width="2.4" fill="none" stroke-linejoin="miter" stroke-miterlimit="10"/>
<path d="M1090.42 197.12L1097.72 207.12L1090.42 217.12L1083.12 207.12Z" stroke="#EDB120" stroke-width="2.4" fill="none" stroke-linejoin="miter" stroke-miterlimit="10"/>
<path d="M1095.09 152.19L1109.89 166.99M1109.89 152.19L1095.09 166.99" stroke="#7E2F8E" stroke-width="2.5" fill="none"/>
<path d="M1127.80 175.96L1142.60 190.76M1142.60 175.96L1127.80 190.76" stroke="#7E2F8E" stroke-width="2.5" fill="none"/>
<circle cx="892.89" cy="254.65" r="7.10" stroke="#0072BD" stroke-width="2.6" fill="none"/>
<circle cx="787.30" cy="266.53" r="7.10" stroke="#0072BD" stroke-width="2.6" fill="none"/>
<circle cx="830.76" cy="266.53" r="7.10" stroke="#0072BD" stroke-width="2.6" fill="none"/>
<circle cx="938.34" cy="266.53" r="7.10" stroke="#0072BD" stroke-width="2.6" fill="none"/>
<circle cx="812.76" cy="278.42" r="7.10" stroke="#0072BD" stroke-width="2.6" fill="none"/>
<circle cx="931.75" cy="290.30" r="7.10" stroke="#0072BD" stroke-width="2.6" fill="none"/>
<circle cx="966.88" cy="290.30" r="7.10" stroke="#0072BD" stroke-width="2.6" fill="none"/>
<circle cx="1060.62" cy="302.18" r="7.10" stroke="#0072BD" stroke-width="2.6" fill="none"/>
<circle cx="982.68" cy="349.71" r="7.10" stroke="#0072BD" stroke-width="2.6" fill="none"/>
<circle cx="1044.81" cy="349.71" r="7.10" stroke="#0072BD" stroke-width="2.6" fill="none"/>
<circle cx="997.17" cy="444.77" r="7.10" stroke="#0072BD" stroke-width="2.6" fill="none"/>
<path d="M1017.37 256.63L1025.87 271.43L1008.87 271.43Z" stroke="#D95319" stroke-width="2.4" fill="none" stroke-linejoin="miter" stroke-miterlimit="10"/>
<path d="M817.44 247.25L832.24 262.05M832.24 247.25L817.44 262.05" stroke="#7E2F8E" stroke-width="2.5" fill="none"/>
<path d="M872.76 259.13L887.56 273.93M887.56 259.13L872.76 273.93" stroke="#7E2F8E" stroke-width="2.5" fill="none"/>
<path d="M806.24 271.02L821.04 285.81M821.04 271.02L806.24 285.81" stroke="#7E2F8E" stroke-width="2.5" fill="none"/>
<path d="M1104.03 244.65L1111.33 254.65L1104.03 264.65L1096.73 254.65Z" stroke="#EDB120" stroke-width="2.4" fill="none" stroke-linejoin="miter" stroke-miterlimit="10"/>
<path d="M1079.07 259.13L1093.87 273.93M1093.87 259.13L1079.07 273.93" stroke="#7E2F8E" stroke-width="2.5" fill="none"/>
<circle cx="1096.34" cy="266.53" r="7.10" stroke="#0072BD" stroke-width="2.6" fill="none"/>
<circle cx="1108.42" cy="266.53" r="7.10" stroke="#0072BD" stroke-width="2.6" fill="none"/>
<circle cx="1110.61" cy="278.42" r="7.10" stroke="#0072BD" stroke-width="2.6" fill="none"/>
<circle cx="1087.12" cy="302.18" r="7.10" stroke="#0072BD" stroke-width="2.6" fill="none"/>
<circle cx="1109.52" cy="325.94" r="7.10" stroke="#0072BD" stroke-width="2.6" fill="none"/>
<path d="M1171.43 292.28L1179.93 307.08L1162.93 307.08Z" stroke="#D95319" stroke-width="2.4" fill="none" stroke-linejoin="miter" stroke-miterlimit="10"/>
<line x1="773.30" y1="186.92" x2="1376.90" y2="122.75" stroke="#000" stroke-width="2.6" stroke-dasharray="5.8 2.9"/>
<path d="M773.30 15.60V492.30H1378.30" stroke="#262626" stroke-width="2.8" fill="none" stroke-linejoin="miter"/>
<line x1="773.30" y1="492.30" x2="780.90" y2="492.30" stroke="#262626" stroke-width="2.8"/>
<text x="765.50" y="499.90" font-size="18.7" fill="#262626" text-anchor="end">10</text>
<line x1="773.30" y1="432.89" x2="780.90" y2="432.89" stroke="#262626" stroke-width="2.8"/>
<text x="765.50" y="440.49" font-size="18.7" fill="#262626" text-anchor="end">15</text>
<line x1="773.30" y1="373.48" x2="780.90" y2="373.48" stroke="#262626" stroke-width="2.8"/>
<text x="765.50" y="381.08" font-size="18.7" fill="#262626" text-anchor="end">20</text>
<line x1="773.30" y1="314.06" x2="780.90" y2="314.06" stroke="#262626" stroke-width="2.8"/>
<text x="765.50" y="321.66" font-size="18.7" fill="#262626" text-anchor="end">25</text>
<line x1="773.30" y1="254.65" x2="780.90" y2="254.65" stroke="#262626" stroke-width="2.8"/>
<text x="765.50" y="262.25" font-size="18.7" fill="#262626" text-anchor="end">30</text>
<line x1="773.30" y1="195.24" x2="780.90" y2="195.24" stroke="#262626" stroke-width="2.8"/>
<text x="765.50" y="202.84" font-size="18.7" fill="#262626" text-anchor="end">35</text>
<line x1="773.30" y1="135.82" x2="780.90" y2="135.82" stroke="#262626" stroke-width="2.8"/>
<text x="765.50" y="143.42" font-size="18.7" fill="#262626" text-anchor="end">40</text>
<line x1="773.30" y1="76.41" x2="780.90" y2="76.41" stroke="#262626" stroke-width="2.8"/>
<text x="765.50" y="84.01" font-size="18.7" fill="#262626" text-anchor="end">45</text>
<line x1="773.30" y1="17.00" x2="780.90" y2="17.00" stroke="#262626" stroke-width="2.8"/>
<text x="765.50" y="24.60" font-size="18.7" fill="#262626" text-anchor="end">50</text>
<line x1="773.30" y1="492.30" x2="773.30" y2="484.70" stroke="#262626" stroke-width="2.8"/>
<text x="773.30" y="519.10" font-size="18.7" fill="#262626" text-anchor="middle">45</text>
<line x1="859.53" y1="492.30" x2="859.53" y2="484.70" stroke="#262626" stroke-width="2.8"/>
<text x="859.53" y="519.10" font-size="18.7" fill="#262626" text-anchor="middle">50</text>
<line x1="945.76" y1="492.30" x2="945.76" y2="484.70" stroke="#262626" stroke-width="2.8"/>
<text x="945.76" y="519.10" font-size="18.7" fill="#262626" text-anchor="middle">55</text>
<line x1="1031.99" y1="492.30" x2="1031.99" y2="484.70" stroke="#262626" stroke-width="2.8"/>
<text x="1031.99" y="519.10" font-size="18.7" fill="#262626" text-anchor="middle">60</text>
<line x1="1118.21" y1="492.30" x2="1118.21" y2="484.70" stroke="#262626" stroke-width="2.8"/>
<text x="1118.21" y="519.10" font-size="18.7" fill="#262626" text-anchor="middle">65</text>
<line x1="1204.44" y1="492.30" x2="1204.44" y2="484.70" stroke="#262626" stroke-width="2.8"/>
<text x="1204.44" y="519.10" font-size="18.7" fill="#262626" text-anchor="middle">70</text>
<line x1="1290.67" y1="492.30" x2="1290.67" y2="484.70" stroke="#262626" stroke-width="2.8"/>
<text x="1290.67" y="519.10" font-size="18.7" fill="#262626" text-anchor="middle">75</text>
<line x1="1376.90" y1="492.30" x2="1376.90" y2="484.70" stroke="#262626" stroke-width="2.8"/>
<text x="1376.90" y="519.10" font-size="18.7" fill="#262626" text-anchor="middle">80</text>
<text x="1075.10" y="546.30" font-size="20.3" fill="#262626" text-anchor="middle">Mean cross-sectional area in mm²</text>
<text transform="translate(735.75 251.00) rotate(-90)" font-size="20.7" fill="#262626" text-anchor="middle">ALSFRS-R score</text>
<text transform="translate(701 36.5) scale(0.97 1)" font-size="52" fill="#231f20">b</text>
<text x="1265.8" y="156.7" font-size="18.7" fill="#1a1a1a">r=0.2, p=0.04</text>
<rect x="1215" y="370.8" width="143" height="96.89999999999998" fill="#fff" stroke="#262626" stroke-width="1.6"/>
<circle cx="1241.00" cy="384.80" r="5.68" stroke="#0072BD" stroke-width="2.5" fill="none"/>
<text x="1266.5" y="391.60" font-size="17" fill="#000">classic ALS</text>
<path d="M1241.00 400.33L1247.80 412.17L1234.20 412.17Z" stroke="#D95319" stroke-width="2.3" fill="none" stroke-linejoin="miter" stroke-miterlimit="10"/>
<text x="1266.5" y="414.45" font-size="17" fill="#000">LMND</text>
<path d="M1241.00 422.50L1246.84 430.50L1241.00 438.50L1235.16 430.50Z" stroke="#EDB120" stroke-width="2.3" fill="none" stroke-linejoin="miter" stroke-miterlimit="10"/>
<text x="1266.5" y="437.30" font-size="17" fill="#000">UMND</text>
<path d="M1235.52 447.87L1246.48 458.83M1246.48 447.87L1235.52 458.83" stroke="#7E2F8E" stroke-width="2.5" fill="none"/>
<text x="1266.5" y="460.15" font-size="17" fill="#000">PLS</text></g>
<g><path d="M1518.46 117.33L1533.26 132.13M1533.26 117.33L1518.46 132.13" stroke="#7E2F8E" stroke-width="2.5" fill="none"/>
<path d="M1669.28 98.32L1684.08 113.12M1684.08 98.32L1669.28 113.12" stroke="#7E2F8E" stroke-width="2.5" fill="none"/>
<path d="M1566.10 190.21L1580.90 205.01M1580.90 190.21L1566.10 205.01" stroke="#7E2F8E" stroke-width="2.5" fill="none"/>
<circle cx="1524.76" cy="162.76" r="7.10" stroke="#0072BD" stroke-width="2.6" fill="none"/>
<circle cx="1756.81" cy="89.88" r="7.10" stroke="#0072BD" stroke-width="2.6" fill="none"/>
<circle cx="1743.20" cy="191.28" r="7.10" stroke="#0072BD" stroke-width="2.6" fill="none"/>
<circle cx="1531.35" cy="245.14" r="7.10" stroke="#0072BD" stroke-width="2.6" fill="none"/>
<path d="M1883.45 165.53L1891.95 180.33L1874.95 180.33Z" stroke="#D95319" stroke-width="2.4" fill="none" stroke-linejoin="miter" stroke-miterlimit="10"/>
<path d="M1903.65 209.89L1912.15 224.69L1895.15 224.69Z" stroke="#D95319" stroke-width="2.4" fill="none" stroke-linejoin="miter" stroke-miterlimit="10"/>
<circle cx="1576.79" cy="260.99" r="7.10" stroke="#0072BD" stroke-width="2.6" fill="none"/>
<circle cx="1586.67" cy="267.32" r="7.10" stroke="#0072BD" stroke-width="2.6" fill="none"/>
<circle cx="1713.57" cy="280.00" r="7.10" stroke="#0072BD" stroke-width="2.6" fill="none"/>
<circle cx="1715.54" cy="299.01" r="7.10" stroke="#0072BD" stroke-width="2.6" fill="none"/>
<circle cx="1604.23" cy="324.36" r="7.10" stroke="#0072BD" stroke-width="2.6" fill="none"/>
<circle cx="1780.96" cy="318.02" r="7.10" stroke="#0072BD" stroke-width="2.6" fill="none"/>
<circle cx="1708.95" cy="340.20" r="7.10" stroke="#0072BD" stroke-width="2.6" fill="none"/>
<circle cx="1678.88" cy="352.88" r="7.10" stroke="#0072BD" stroke-width="2.6" fill="none"/>
<circle cx="1598.75" cy="368.72" r="7.10" stroke="#0072BD" stroke-width="2.6" fill="none"/>
<circle cx="1733.32" cy="368.72" r="7.10" stroke="#0072BD" stroke-width="2.6" fill="none"/>
<circle cx="1669.00" cy="375.06" r="7.10" stroke="#0072BD" stroke-width="2.6" fill="none"/>
<circle cx="1772.18" cy="375.06" r="7.10" stroke="#0072BD" stroke-width="2.6" fill="none"/>
<circle cx="1696.44" cy="384.57" r="7.10" stroke="#0072BD" stroke-width="2.6" fill="none"/>
<circle cx="1755.72" cy="387.73" r="7.10" stroke="#0072BD" stroke-width="2.6" fill="none"/>
<circle cx="1760.11" cy="400.41" r="7.10" stroke="#0072BD" stroke-width="2.6" fill="none"/>
<circle cx="1722.35" cy="400.41" r="7.10" stroke="#0072BD" stroke-width="2.6" fill="none"/>
<circle cx="1524.76" cy="432.10" r="7.10" stroke="#0072BD" stroke-width="2.6" fill="none"/>
<circle cx="1584.92" cy="432.10" r="7.10" stroke="#0072BD" stroke-width="2.6" fill="none"/>
<circle cx="1499.30" cy="451.11" r="7.10" stroke="#0072BD" stroke-width="2.6" fill="none"/>
<circle cx="1542.32" cy="457.44" r="7.10" stroke="#0072BD" stroke-width="2.6" fill="none"/>
<circle cx="1596.55" cy="447.94" r="7.10" stroke="#0072BD" stroke-width="2.6" fill="none"/>
<circle cx="1611.92" cy="470.12" r="7.10" stroke="#0072BD" stroke-width="2.6" fill="none"/>
<path d="M1729.37 247.92L1737.87 262.72L1720.87 262.72Z" stroke="#D95319" stroke-width="2.4" fill="none" stroke-linejoin="miter" stroke-miterlimit="10"/>
<path d="M1493.37 323.97L1501.87 338.77L1484.87 338.77Z" stroke="#D95319" stroke-width="2.4" fill="none" stroke-linejoin="miter" stroke-miterlimit="10"/>
<path d="M1652.53 393.68L1661.03 408.48L1644.03 408.48Z" stroke="#D95319" stroke-width="2.4" fill="none" stroke-linejoin="miter" stroke-miterlimit="10"/>
<path d="M1546.72 463.39L1555.22 478.19L1538.22 478.19Z" stroke="#D95319" stroke-width="2.4" fill="none" stroke-linejoin="miter" stroke-miterlimit="10"/>
<path d="M1563.62 469.73L1572.12 484.53L1555.12 484.53Z" stroke="#D95319" stroke-width="2.4" fill="none" stroke-linejoin="miter" stroke-miterlimit="10"/>
<path d="M1619.16 434.87L1627.66 449.67L1610.66 449.67Z" stroke="#D95319" stroke-width="2.4" fill="none" stroke-linejoin="miter" stroke-miterlimit="10"/>
<path d="M1616.31 453.88L1624.81 468.68L1607.81 468.68Z" stroke="#D95319" stroke-width="2.4" fill="none" stroke-linejoin="miter" stroke-miterlimit="10"/>
<path d="M1580.09 393.58L1587.39 403.58L1580.09 413.58L1572.79 403.58Z" stroke="#EDB120" stroke-width="2.4" fill="none" stroke-linejoin="miter" stroke-miterlimit="10"/>
<path d="M1679.98 368.23L1687.28 378.23L1679.98 388.23L1672.68 378.23Z" stroke="#EDB120" stroke-width="2.4" fill="none" stroke-linejoin="miter" stroke-miterlimit="10"/>
<path d="M1712.47 387.24L1719.77 397.24L1712.47 407.24L1705.17 397.24Z" stroke="#EDB120" stroke-width="2.4" fill="none" stroke-linejoin="miter" stroke-miterlimit="10"/>
<circle cx="1793.88" cy="375.06" r="7.10" stroke="#0072BD" stroke-width="2.6" fill="none"/>
<circle cx="1807.05" cy="375.06" r="7.10" stroke="#0072BD" stroke-width="2.6" fill="none"/>
<circle cx="1798.93" cy="394.07" r="7.10" stroke="#0072BD" stroke-width="2.6" fill="none"/>
<circle cx="1821.32" cy="390.90" r="7.10" stroke="#0072BD" stroke-width="2.6" fill="none"/>
<circle cx="1830.10" cy="387.73" r="7.10" stroke="#0072BD" stroke-width="2.6" fill="none"/>
<circle cx="1854.25" cy="371.89" r="7.10" stroke="#0072BD" stroke-width="2.6" fill="none"/>
<circle cx="1927.80" cy="381.40" r="7.10" stroke="#0072BD" stroke-width="2.6" fill="none"/>
<circle cx="1937.68" cy="422.59" r="7.10" stroke="#0072BD" stroke-width="2.6" fill="none"/>
<circle cx="1807.71" cy="422.59" r="7.10" stroke="#0072BD" stroke-width="2.6" fill="none"/>
<circle cx="1824.61" cy="438.43" r="7.10" stroke="#0072BD" stroke-width="2.6" fill="none"/>
<circle cx="1833.40" cy="444.77" r="7.10" stroke="#0072BD" stroke-width="2.6" fill="none"/>
<circle cx="1798.93" cy="435.26" r="7.10" stroke="#0072BD" stroke-width="2.6" fill="none"/>
<circle cx="1812.54" cy="476.46" r="7.10" stroke="#0072BD" stroke-width="2.6" fill="none"/>
<circle cx="1824.61" cy="473.29" r="7.10" stroke="#0072BD" stroke-width="2.6" fill="none"/>
<circle cx="1832.30" cy="470.12" r="7.10" stroke="#0072BD" stroke-width="2.6" fill="none"/>
<circle cx="1816.93" cy="460.61" r="7.10" stroke="#0072BD" stroke-width="2.6" fill="none"/>
<circle cx="1847.67" cy="463.78" r="7.10" stroke="#0072BD" stroke-width="2.6" fill="none"/>
<circle cx="1873.57" cy="466.95" r="7.10" stroke="#0072BD" stroke-width="2.6" fill="none"/>
<circle cx="1870.72" cy="479.63" r="7.10" stroke="#0072BD" stroke-width="2.6" fill="none"/>
<circle cx="1872.91" cy="479.63" r="7.10" stroke="#0072BD" stroke-width="2.6" fill="none"/>
<circle cx="1893.77" cy="473.29" r="7.10" stroke="#0072BD" stroke-width="2.6" fill="none"/>
<circle cx="1895.96" cy="447.94" r="7.10" stroke="#0072BD" stroke-width="2.6" fill="none"/>
<circle cx="1902.55" cy="444.77" r="7.10" stroke="#0072BD" stroke-width="2.6" fill="none"/>
<circle cx="1905.84" cy="447.94" r="7.10" stroke="#0072BD" stroke-width="2.6" fill="none"/>
<circle cx="1909.14" cy="451.11" r="7.10" stroke="#0072BD" stroke-width="2.6" fill="none"/>
<circle cx="1910.23" cy="432.10" r="7.10" stroke="#0072BD" stroke-width="2.6" fill="none"/>
<circle cx="1924.50" cy="444.77" r="7.10" stroke="#0072BD" stroke-width="2.6" fill="none"/>
<circle cx="1935.48" cy="476.46" r="7.10" stroke="#0072BD" stroke-width="2.6" fill="none"/>
<circle cx="1940.31" cy="482.79" r="7.10" stroke="#0072BD" stroke-width="2.6" fill="none"/>
<circle cx="1954.14" cy="460.61" r="7.10" stroke="#0072BD" stroke-width="2.6" fill="none"/>
<circle cx="1964.46" cy="447.94" r="7.10" stroke="#0072BD" stroke-width="2.6" fill="none"/>
<circle cx="2003.54" cy="463.78" r="7.10" stroke="#0072BD" stroke-width="2.6" fill="none"/>
<circle cx="1999.15" cy="473.29" r="7.10" stroke="#0072BD" stroke-width="2.6" fill="none"/>
<circle cx="2014.52" cy="476.46" r="7.10" stroke="#0072BD" stroke-width="2.6" fill="none"/>
<circle cx="2026.59" cy="460.61" r="7.10" stroke="#0072BD" stroke-width="2.6" fill="none"/>
<circle cx="2032.08" cy="473.29" r="7.10" stroke="#0072BD" stroke-width="2.6" fill="none"/>
<path d="M1809.25 346.15L1817.75 360.95L1800.75 360.95Z" stroke="#D95319" stroke-width="2.4" fill="none" stroke-linejoin="miter" stroke-miterlimit="10"/>
<path d="M1861.28 371.50L1869.78 386.30L1852.78 386.30Z" stroke="#D95319" stroke-width="2.4" fill="none" stroke-linejoin="miter" stroke-miterlimit="10"/>
<path d="M1815.83 422.20L1824.33 437.00L1807.33 437.00Z" stroke="#D95319" stroke-width="2.4" fill="none" stroke-linejoin="miter" stroke-miterlimit="10"/>
<path d="M1808.15 450.71L1816.65 465.51L1799.65 465.51Z" stroke="#D95319" stroke-width="2.4" fill="none" stroke-linejoin="miter" stroke-miterlimit="10"/>
<path d="M1815.83 447.54L1824.33 462.34L1807.33 462.34Z" stroke="#D95319" stroke-width="2.4" fill="none" stroke-linejoin="miter" stroke-miterlimit="10"/>
<path d="M1946.46 453.88L1954.96 468.68L1937.96 468.68Z" stroke="#D95319" stroke-width="2.4" fill="none" stroke-linejoin="miter" stroke-miterlimit="10"/>
<path d="M1815.83 377.73L1823.13 387.73L1815.83 397.73L1808.53 387.73Z" stroke="#EDB120" stroke-width="2.4" fill="none" stroke-linejoin="miter" stroke-miterlimit="10"/>
<path d="M1802.66 431.60L1809.96 441.60L1802.66 451.60L1795.36 441.60Z" stroke="#EDB120" stroke-width="2.4" fill="none" stroke-linejoin="miter" stroke-miterlimit="10"/>
<path d="M1847.67 447.44L1854.97 457.44L1847.67 467.44L1840.37 457.44Z" stroke="#EDB120" stroke-width="2.4" fill="none" stroke-linejoin="miter" stroke-miterlimit="10"/>
<path d="M1873.57 450.61L1880.87 460.61L1873.57 470.61L1866.27 460.61Z" stroke="#EDB120" stroke-width="2.4" fill="none" stroke-linejoin="miter" stroke-miterlimit="10"/>
<path d="M1922.31 450.61L1929.61 460.61L1922.31 470.61L1915.01 460.61Z" stroke="#EDB120" stroke-width="2.4" fill="none" stroke-linejoin="miter" stroke-miterlimit="10"/>
<path d="M1953.48 441.11L1960.78 451.11L1953.48 461.11L1946.18 451.11Z" stroke="#EDB120" stroke-width="2.4" fill="none" stroke-linejoin="miter" stroke-miterlimit="10"/>
<path d="M1975.66 469.63L1982.96 479.63L1975.66 489.63L1968.36 479.63Z" stroke="#EDB120" stroke-width="2.4" fill="none" stroke-linejoin="miter" stroke-miterlimit="10"/>
<path d="M1807.34 351.82L1822.14 366.62M1822.14 351.82L1807.34 366.62" stroke="#7E2F8E" stroke-width="2.5" fill="none"/>
<path d="M1791.53 370.83L1806.33 385.63M1806.33 370.83L1791.53 385.63" stroke="#7E2F8E" stroke-width="2.5" fill="none"/>
<path d="M1839.61 399.35L1854.41 414.15M1854.41 399.35L1839.61 414.15" stroke="#7E2F8E" stroke-width="2.5" fill="none"/>
<circle cx="1632.26" cy="413.08" r="7.10" stroke="#0072BD" stroke-width="2.6" fill="none"/>
<circle cx="1643.16" cy="416.25" r="7.10" stroke="#0072BD" stroke-width="2.6" fill="none"/>
<circle cx="1652.59" cy="425.76" r="7.10" stroke="#0072BD" stroke-width="2.6" fill="none"/>
<circle cx="1650.45" cy="435.26" r="7.10" stroke="#0072BD" stroke-width="2.6" fill="none"/>
<circle cx="1636.30" cy="438.43" r="7.10" stroke="#0072BD" stroke-width="2.6" fill="none"/>
<circle cx="1664.60" cy="435.26" r="7.10" stroke="#0072BD" stroke-width="2.6" fill="none"/>
<circle cx="1675.75" cy="422.59" r="7.10" stroke="#0072BD" stroke-width="2.6" fill="none"/>
<circle cx="1681.75" cy="432.10" r="7.10" stroke="#0072BD" stroke-width="2.6" fill="none"/>
<circle cx="1693.76" cy="425.76" r="7.10" stroke="#0072BD" stroke-width="2.6" fill="none"/>
<circle cx="1703.62" cy="419.42" r="7.10" stroke="#0072BD" stroke-width="2.6" fill="none"/>
<circle cx="1704.91" cy="422.59" r="7.10" stroke="#0072BD" stroke-width="2.6" fill="none"/>
<circle cx="1710.05" cy="435.26" r="7.10" stroke="#0072BD" stroke-width="2.6" fill="none"/>
<circle cx="1725.92" cy="425.76" r="7.10" stroke="#0072BD" stroke-width="2.6" fill="none"/>
<circle cx="1756.79" cy="416.25" r="7.10" stroke="#0072BD" stroke-width="2.6" fill="none"/>
<circle cx="1773.95" cy="428.93" r="7.10" stroke="#0072BD" stroke-width="2.6" fill="none"/>
<circle cx="1673.17" cy="460.61" r="7.10" stroke="#0072BD" stroke-width="2.6" fill="none"/>
<circle cx="1694.61" cy="444.77" r="7.10" stroke="#0072BD" stroke-width="2.6" fill="none"/>
<circle cx="1694.61" cy="460.61" r="7.10" stroke="#0072BD" stroke-width="2.6" fill="none"/>
<circle cx="1700.62" cy="463.78" r="7.10" stroke="#0072BD" stroke-width="2.6" fill="none"/>
<circle cx="1706.62" cy="463.78" r="7.10" stroke="#0072BD" stroke-width="2.6" fill="none"/>
<circle cx="1710.05" cy="460.61" r="7.10" stroke="#0072BD" stroke-width="2.6" fill="none"/>
<circle cx="1692.47" cy="473.29" r="7.10" stroke="#0072BD" stroke-width="2.6" fill="none"/>
<circle cx="1714.77" cy="482.79" r="7.10" stroke="#0072BD" stroke-width="2.6" fill="none"/>
<circle cx="1718.63" cy="479.63" r="7.10" stroke="#0072BD" stroke-width="2.6" fill="none"/>
<circle cx="1723.77" cy="463.78" r="7.10" stroke="#0072BD" stroke-width="2.6" fill="none"/>
<circle cx="1732.35" cy="479.63" r="7.10" stroke="#0072BD" stroke-width="2.6" fill="none"/>
<circle cx="1737.50" cy="447.94" r="7.10" stroke="#0072BD" stroke-width="2.6" fill="none"/>
<circle cx="1740.07" cy="454.28" r="7.10" stroke="#0072BD" stroke-width="2.6" fill="none"/>
<circle cx="1753.79" cy="470.12" r="7.10" stroke="#0072BD" stroke-width="2.6" fill="none"/>
<circle cx="1757.22" cy="466.95" r="7.10" stroke="#0072BD" stroke-width="2.6" fill="none"/>
<circle cx="1760.65" cy="463.78" r="7.10" stroke="#0072BD" stroke-width="2.6" fill="none"/>
<circle cx="1767.51" cy="463.78" r="7.10" stroke="#0072BD" stroke-width="2.6" fill="none"/>
<circle cx="1757.22" cy="479.63" r="7.10" stroke="#0072BD" stroke-width="2.6" fill="none"/>
<circle cx="1754.65" cy="473.29" r="7.10" stroke="#0072BD" stroke-width="2.6" fill="none"/>
<circle cx="1636.72" cy="473.29" r="7.10" stroke="#0072BD" stroke-width="2.6" fill="none"/>
<path d="M1643.16 444.38L1651.66 459.18L1634.66 459.18Z" stroke="#D95319" stroke-width="2.4" fill="none" stroke-linejoin="miter" stroke-miterlimit="10"/>
<path d="M1693.33 434.87L1701.83 449.67L1684.83 449.67Z" stroke="#D95319" stroke-width="2.4" fill="none" stroke-linejoin="miter" stroke-miterlimit="10"/>
<path d="M1712.20 431.70L1720.70 446.50L1703.70 446.50Z" stroke="#D95319" stroke-width="2.4" fill="none" stroke-linejoin="miter" stroke-miterlimit="10"/>
<path d="M1725.92 428.53L1734.42 443.33L1717.42 443.33Z" stroke="#D95319" stroke-width="2.4" fill="none" stroke-linejoin="miter" stroke-miterlimit="10"/>
<path d="M1728.92 428.53L1737.42 443.33L1720.42 443.33Z" stroke="#D95319" stroke-width="2.4" fill="none" stroke-linejoin="miter" stroke-miterlimit="10"/>
<path d="M1752.08 425.36L1760.58 440.16L1743.58 440.16Z" stroke="#D95319" stroke-width="2.4" fill="none" stroke-linejoin="miter" stroke-miterlimit="10"/>
<path d="M1761.08 415.86L1769.58 430.66L1752.58 430.66Z" stroke="#D95319" stroke-width="2.4" fill="none" stroke-linejoin="miter" stroke-miterlimit="10"/>
<path d="M1752.50 434.87L1761.00 449.67L1744.00 449.67Z" stroke="#D95319" stroke-width="2.4" fill="none" stroke-linejoin="miter" stroke-miterlimit="10"/>
<path d="M1786.81 425.36L1795.31 440.16L1778.31 440.16Z" stroke="#D95319" stroke-width="2.4" fill="none" stroke-linejoin="miter" stroke-miterlimit="10"/>
<path d="M1689.04 460.22L1697.54 475.02L1680.54 475.02Z" stroke="#D95319" stroke-width="2.4" fill="none" stroke-linejoin="miter" stroke-miterlimit="10"/>
<path d="M1735.78 463.39L1744.28 478.19L1727.28 478.19Z" stroke="#D95319" stroke-width="2.4" fill="none" stroke-linejoin="miter" stroke-miterlimit="10"/>
<path d="M1774.37 469.73L1782.87 484.53L1765.87 484.53Z" stroke="#D95319" stroke-width="2.4" fill="none" stroke-linejoin="miter" stroke-miterlimit="10"/>
<path d="M1712.20 412.59L1719.50 422.59L1712.20 432.59L1704.90 422.59Z" stroke="#EDB120" stroke-width="2.4" fill="none" stroke-linejoin="miter" stroke-miterlimit="10"/>
<path d="M1684.75 437.94L1692.05 447.94L1684.75 457.94L1677.45 447.94Z" stroke="#EDB120" stroke-width="2.4" fill="none" stroke-linejoin="miter" stroke-miterlimit="10"/>
<path d="M1634.58 447.44L1641.88 457.44L1634.58 467.44L1627.28 457.44Z" stroke="#EDB120" stroke-width="2.4" fill="none" stroke-linejoin="miter" stroke-miterlimit="10"/>
<path d="M1716.91 460.12L1724.21 470.12L1716.91 480.12L1709.61 470.12Z" stroke="#EDB120" stroke-width="2.4" fill="none" stroke-linejoin="miter" stroke-miterlimit="10"/>
<path d="M1759.68 443.71L1774.48 458.51M1774.48 443.71L1759.68 458.51" stroke="#7E2F8E" stroke-width="2.5" fill="none"/>
<circle cx="1783.81" cy="454.28" r="7.10" stroke="#0072BD" stroke-width="2.6" fill="none"/>
<circle cx="1790.67" cy="451.11" r="7.10" stroke="#0072BD" stroke-width="2.6" fill="none"/>
<circle cx="1790.24" cy="460.61" r="7.10" stroke="#0072BD" stroke-width="2.6" fill="none"/>
<circle cx="1792.38" cy="466.95" r="7.10" stroke="#0072BD" stroke-width="2.6" fill="none"/>
<line x1="1485.50" y1="319.29" x2="2029.31" y2="492.30" stroke="#000" stroke-width="2.6" stroke-dasharray="5.8 2.9"/>
<path d="M1485.50 15.60V492.30H2089.60" stroke="#262626" stroke-width="2.8" fill="none" stroke-linejoin="miter"/>
<line x1="1485.50" y1="492.30" x2="1493.10" y2="492.30" stroke="#262626" stroke-width="2.8"/>
<text x="1477.70" y="499.90" font-size="18.7" fill="#262626" text-anchor="end">0</text>
<line x1="1485.50" y1="333.87" x2="1493.10" y2="333.87" stroke="#262626" stroke-width="2.8"/>
<text x="1477.70" y="341.47" font-size="18.7" fill="#262626" text-anchor="end">50</text>
<line x1="1485.50" y1="175.43" x2="1493.10" y2="175.43" stroke="#262626" stroke-width="2.8"/>
<text x="1477.70" y="183.03" font-size="18.7" fill="#262626" text-anchor="end">100</text>
<line x1="1485.50" y1="17.00" x2="1493.10" y2="17.00" stroke="#262626" stroke-width="2.8"/>
<text x="1477.70" y="24.60" font-size="18.7" fill="#262626" text-anchor="end">150</text>
<line x1="1485.50" y1="492.30" x2="1485.50" y2="484.70" stroke="#262626" stroke-width="2.8"/>
<text x="1485.50" y="519.10" font-size="18.7" fill="#262626" text-anchor="middle">45</text>
<line x1="1571.60" y1="492.30" x2="1571.60" y2="484.70" stroke="#262626" stroke-width="2.8"/>
<text x="1571.60" y="519.10" font-size="18.7" fill="#262626" text-anchor="middle">50</text>
<line x1="1657.70" y1="492.30" x2="1657.70" y2="484.70" stroke="#262626" stroke-width="2.8"/>
<text x="1657.70" y="519.10" font-size="18.7" fill="#262626" text-anchor="middle">55</text>
<line x1="1743.80" y1="492.30" x2="1743.80" y2="484.70" stroke="#262626" stroke-width="2.8"/>
<text x="1743.80" y="519.10" font-size="18.7" fill="#262626" text-anchor="middle">60</text>
<line x1="1829.90" y1="492.30" x2="1829.90" y2="484.70" stroke="#262626" stroke-width="2.8"/>
<text x="1829.90" y="519.10" font-size="18.7" fill="#262626" text-anchor="middle">65</text>
<line x1="1916.00" y1="492.30" x2="1916.00" y2="484.70" stroke="#262626" stroke-width="2.8"/>
<text x="1916.00" y="519.10" font-size="18.7" fill="#262626" text-anchor="middle">70</text>
<line x1="2002.10" y1="492.30" x2="2002.10" y2="484.70" stroke="#262626" stroke-width="2.8"/>
<text x="2002.10" y="519.10" font-size="18.7" fill="#262626" text-anchor="middle">75</text>
<line x1="2088.20" y1="492.30" x2="2088.20" y2="484.70" stroke="#262626" stroke-width="2.8"/>
<text x="2088.20" y="519.10" font-size="18.7" fill="#262626" text-anchor="middle">80</text>
<text x="1786.85" y="546.30" font-size="20.3" fill="#262626" text-anchor="middle">Mean cross-sectional area in mm²</text>
<text transform="translate(1436.80 251.80) rotate(-90)" font-size="20.3" fill="#262626" text-anchor="middle">Disease duration in months</text>
<text transform="translate(1407.5 36.5) scale(1.05 1)" font-size="50" fill="#231f20">c</text>
<text x="1949" y="434.7" font-size="18.7" fill="#1a1a1a">r=-0.2, p=0.006</text>
<rect x="1927" y="35.8" width="143" height="96.2" fill="#fff" stroke="#262626" stroke-width="1.6"/>
<circle cx="1953.00" cy="49.80" r="5.68" stroke="#0072BD" stroke-width="2.5" fill="none"/>
<text x="1978.5" y="56.60" font-size="17" fill="#000">classic ALS</text>
<path d="M1953.00 65.33L1959.80 77.17L1946.20 77.17Z" stroke="#D95319" stroke-width="2.3" fill="none" stroke-linejoin="miter" stroke-miterlimit="10"/>
<text x="1978.5" y="79.45" font-size="17" fill="#000">LMND</text>
<path d="M1953.00 87.50L1958.84 95.50L1953.00 103.50L1947.16 95.50Z" stroke="#EDB120" stroke-width="2.3" fill="none" stroke-linejoin="miter" stroke-miterlimit="10"/>
<text x="1978.5" y="102.30" font-size="17" fill="#000">UMND</text>
<path d="M1947.52 112.87L1958.48 123.83M1958.48 112.87L1947.52 123.83" stroke="#7E2F8E" stroke-width="2.5" fill="none"/>
<text x="1978.5" y="125.15" font-size="17" fill="#000">PLS</text></g>
<g><circle cx="459.66" cy="712.38" r="7.10" stroke="#0072BD" stroke-width="2.6" fill="none"/>
<circle cx="459.66" cy="734.34" r="7.10" stroke="#0072BD" stroke-width="2.6" fill="none"/>
<circle cx="519.38" cy="674.84" r="7.10" stroke="#0072BD" stroke-width="2.6" fill="none"/>
<circle cx="511.69" cy="734.34" r="7.10" stroke="#0072BD" stroke-width="2.6" fill="none"/>
<circle cx="566.58" cy="702.28" r="7.10" stroke="#0072BD" stroke-width="2.6" fill="none"/>
<circle cx="577.56" cy="746.41" r="7.10" stroke="#0072BD" stroke-width="2.6" fill="none"/>
<circle cx="602.80" cy="745.09" r="7.10" stroke="#0072BD" stroke-width="2.6" fill="none"/>
<circle cx="612.68" cy="757.39" r="7.10" stroke="#0072BD" stroke-width="2.6" fill="none"/>
<circle cx="466.25" cy="771.66" r="7.10" stroke="#0072BD" stroke-width="2.6" fill="none"/>
<circle cx="477.67" cy="778.68" r="7.10" stroke="#0072BD" stroke-width="2.6" fill="none"/>
<circle cx="533.65" cy="771.66" r="7.10" stroke="#0072BD" stroke-width="2.6" fill="none"/>
<circle cx="531.45" cy="810.08" r="7.10" stroke="#0072BD" stroke-width="2.6" fill="none"/>
<circle cx="539.14" cy="807.22" r="7.10" stroke="#0072BD" stroke-width="2.6" fill="none"/>
<circle cx="521.57" cy="821.49" r="7.10" stroke="#0072BD" stroke-width="2.6" fill="none"/>
<circle cx="633.54" cy="641.91" r="7.10" stroke="#0072BD" stroke-width="2.6" fill="none"/>
<circle cx="688.42" cy="616.22" r="7.10" stroke="#0072BD" stroke-width="2.6" fill="none"/>
<circle cx="685.57" cy="635.32" r="7.10" stroke="#0072BD" stroke-width="2.6" fill="none"/>
<circle cx="655.49" cy="660.57" r="7.10" stroke="#0072BD" stroke-width="2.6" fill="none"/>
<circle cx="643.86" cy="684.94" r="7.10" stroke="#0072BD" stroke-width="2.6" fill="none"/>
<circle cx="666.47" cy="678.13" r="7.10" stroke="#0072BD" stroke-width="2.6" fill="none"/>
<circle cx="701.60" cy="686.04" r="7.10" stroke="#0072BD" stroke-width="2.6" fill="none"/>
<circle cx="713.67" cy="698.11" r="7.10" stroke="#0072BD" stroke-width="2.6" fill="none"/>
<circle cx="691.06" cy="711.06" r="7.10" stroke="#0072BD" stroke-width="2.6" fill="none"/>
<circle cx="628.05" cy="724.90" r="7.10" stroke="#0072BD" stroke-width="2.6" fill="none"/>
<circle cx="646.71" cy="721.60" r="7.10" stroke="#0072BD" stroke-width="2.6" fill="none"/>
<circle cx="642.32" cy="731.48" r="7.10" stroke="#0072BD" stroke-width="2.6" fill="none"/>
<circle cx="656.15" cy="731.04" r="7.10" stroke="#0072BD" stroke-width="2.6" fill="none"/>
<circle cx="670.86" cy="720.94" r="7.10" stroke="#0072BD" stroke-width="2.6" fill="none"/>
<circle cx="628.05" cy="739.60" r="7.10" stroke="#0072BD" stroke-width="2.6" fill="none"/>
<circle cx="642.32" cy="754.09" r="7.10" stroke="#0072BD" stroke-width="2.6" fill="none"/>
<circle cx="658.79" cy="747.29" r="7.10" stroke="#0072BD" stroke-width="2.6" fill="none"/>
<circle cx="673.06" cy="740.70" r="7.10" stroke="#0072BD" stroke-width="2.6" fill="none"/>
<circle cx="647.81" cy="767.71" r="7.10" stroke="#0072BD" stroke-width="2.6" fill="none"/>
<circle cx="690.18" cy="771.66" r="7.10" stroke="#0072BD" stroke-width="2.6" fill="none"/>
<circle cx="716.96" cy="731.04" r="7.10" stroke="#0072BD" stroke-width="2.6" fill="none"/>
<circle cx="704.89" cy="789.00" r="7.10" stroke="#0072BD" stroke-width="2.6" fill="none"/>
<circle cx="615.98" cy="797.34" r="7.10" stroke="#0072BD" stroke-width="2.6" fill="none"/>
<circle cx="608.95" cy="808.32" r="7.10" stroke="#0072BD" stroke-width="2.6" fill="none"/>
<circle cx="586.34" cy="800.64" r="7.10" stroke="#0072BD" stroke-width="2.6" fill="none"/>
<circle cx="692.81" cy="810.08" r="7.10" stroke="#0072BD" stroke-width="2.6" fill="none"/>
<path d="M482.06 671.20L490.56 686.00L473.56 686.00Z" stroke="#D95319" stroke-width="2.4" fill="none" stroke-linejoin="miter" stroke-miterlimit="10"/>
<path d="M553.41 658.69L561.91 673.49L544.91 673.49Z" stroke="#D95319" stroke-width="2.4" fill="none" stroke-linejoin="miter" stroke-miterlimit="10"/>
<path d="M498.52 777.24L507.02 792.04L490.02 792.04Z" stroke="#D95319" stroke-width="2.4" fill="none" stroke-linejoin="miter" stroke-miterlimit="10"/>
<path d="M707.08 671.86L715.58 686.66L698.58 686.66Z" stroke="#D95319" stroke-width="2.4" fill="none" stroke-linejoin="miter" stroke-miterlimit="10"/>
<path d="M694.57 681.74L703.07 696.54L686.07 696.54Z" stroke="#D95319" stroke-width="2.4" fill="none" stroke-linejoin="miter" stroke-miterlimit="10"/>
<path d="M685.57 735.53L694.07 750.33L677.07 750.33Z" stroke="#D95319" stroke-width="2.4" fill="none" stroke-linejoin="miter" stroke-miterlimit="10"/>
<path d="M662.08 750.90L670.58 765.70L653.58 765.70Z" stroke="#D95319" stroke-width="2.4" fill="none" stroke-linejoin="miter" stroke-miterlimit="10"/>
<path d="M685.57 754.19L694.07 768.99L677.07 768.99Z" stroke="#D95319" stroke-width="2.4" fill="none" stroke-linejoin="miter" stroke-miterlimit="10"/>
<path d="M645.61 772.85L654.11 787.65L637.11 787.65Z" stroke="#D95319" stroke-width="2.4" fill="none" stroke-linejoin="miter" stroke-miterlimit="10"/>
<path d="M622.56 789.32L631.06 804.12L614.06 804.12Z" stroke="#D95319" stroke-width="2.4" fill="none" stroke-linejoin="miter" stroke-miterlimit="10"/>
<path d="M586.34 793.71L594.84 808.51L577.84 808.51Z" stroke="#D95319" stroke-width="2.4" fill="none" stroke-linejoin="miter" stroke-miterlimit="10"/>
<path d="M658.79 805.78L667.29 820.58L650.29 820.58Z" stroke="#D95319" stroke-width="2.4" fill="none" stroke-linejoin="miter" stroke-miterlimit="10"/>
<path d="M568.77 733.12L576.07 743.12L568.77 753.12L561.47 743.12Z" stroke="#EDB120" stroke-width="2.4" fill="none" stroke-linejoin="miter" stroke-miterlimit="10"/>
<path d="M613.78 808.20L621.08 818.20L613.78 828.20L606.48 818.20Z" stroke="#EDB120" stroke-width="2.4" fill="none" stroke-linejoin="miter" stroke-miterlimit="10"/>
<path d="M692.00 731.11L706.80 745.91M706.80 731.11L692.00 745.91" stroke="#7E2F8E" stroke-width="2.5" fill="none"/>
<circle cx="724.34" cy="633.79" r="7.10" stroke="#0072BD" stroke-width="2.6" fill="none"/>
<circle cx="757.05" cy="622.81" r="7.10" stroke="#0072BD" stroke-width="2.6" fill="none"/>
<circle cx="747.17" cy="653.11" r="7.10" stroke="#0072BD" stroke-width="2.6" fill="none"/>
<circle cx="757.05" cy="668.91" r="7.10" stroke="#0072BD" stroke-width="2.6" fill="none"/>
<circle cx="725.88" cy="680.55" r="7.10" stroke="#0072BD" stroke-width="2.6" fill="none"/>
<circle cx="739.71" cy="682.09" r="7.10" stroke="#0072BD" stroke-width="2.6" fill="none"/>
<circle cx="735.76" cy="697.89" r="7.10" stroke="#0072BD" stroke-width="2.6" fill="none"/>
<circle cx="781.20" cy="678.13" r="7.10" stroke="#0072BD" stroke-width="2.6" fill="none"/>
<circle cx="835.21" cy="662.33" r="7.10" stroke="#0072BD" stroke-width="2.6" fill="none"/>
<circle cx="827.31" cy="673.96" r="7.10" stroke="#0072BD" stroke-width="2.6" fill="none"/>
<circle cx="867.04" cy="678.13" r="7.10" stroke="#0072BD" stroke-width="2.6" fill="none"/>
<circle cx="896.02" cy="655.74" r="7.10" stroke="#0072BD" stroke-width="2.6" fill="none"/>
<circle cx="962.98" cy="668.91" r="7.10" stroke="#0072BD" stroke-width="2.6" fill="none"/>
<circle cx="957.49" cy="682.52" r="7.10" stroke="#0072BD" stroke-width="2.6" fill="none"/>
<circle cx="930.05" cy="691.31" r="7.10" stroke="#0072BD" stroke-width="2.6" fill="none"/>
<circle cx="859.80" cy="700.75" r="7.10" stroke="#0072BD" stroke-width="2.6" fill="none"/>
<circle cx="786.69" cy="717.65" r="7.10" stroke="#0072BD" stroke-width="2.6" fill="none"/>
<circle cx="804.47" cy="713.04" r="7.10" stroke="#0072BD" stroke-width="2.6" fill="none"/>
<circle cx="806.01" cy="714.36" r="7.10" stroke="#0072BD" stroke-width="2.6" fill="none"/>
<circle cx="766.05" cy="726.43" r="7.10" stroke="#0072BD" stroke-width="2.6" fill="none"/>
<circle cx="725.22" cy="735.87" r="7.10" stroke="#0072BD" stroke-width="2.6" fill="none"/>
<circle cx="731.81" cy="731.48" r="7.10" stroke="#0072BD" stroke-width="2.6" fill="none"/>
<circle cx="756.61" cy="748.61" r="7.10" stroke="#0072BD" stroke-width="2.6" fill="none"/>
<circle cx="764.74" cy="757.39" r="7.10" stroke="#0072BD" stroke-width="2.6" fill="none"/>
<circle cx="740.59" cy="758.27" r="7.10" stroke="#0072BD" stroke-width="2.6" fill="none"/>
<circle cx="856.07" cy="726.65" r="7.10" stroke="#0072BD" stroke-width="2.6" fill="none"/>
<circle cx="885.70" cy="716.55" r="7.10" stroke="#0072BD" stroke-width="2.6" fill="none"/>
<circle cx="842.23" cy="738.51" r="7.10" stroke="#0072BD" stroke-width="2.6" fill="none"/>
<circle cx="827.31" cy="744.22" r="7.10" stroke="#0072BD" stroke-width="2.6" fill="none"/>
<circle cx="825.11" cy="769.24" r="7.10" stroke="#0072BD" stroke-width="2.6" fill="none"/>
<circle cx="934.44" cy="729.73" r="7.10" stroke="#0072BD" stroke-width="2.6" fill="none"/>
<circle cx="945.42" cy="746.41" r="7.10" stroke="#0072BD" stroke-width="2.6" fill="none"/>
<circle cx="762.54" cy="779.12" r="7.10" stroke="#0072BD" stroke-width="2.6" fill="none"/>
<circle cx="729.17" cy="786.37" r="7.10" stroke="#0072BD" stroke-width="2.6" fill="none"/>
<circle cx="869.24" cy="783.73" r="7.10" stroke="#0072BD" stroke-width="2.6" fill="none"/>
<circle cx="744.54" cy="802.83" r="7.10" stroke="#0072BD" stroke-width="2.6" fill="none"/>
<circle cx="751.13" cy="808.98" r="7.10" stroke="#0072BD" stroke-width="2.6" fill="none"/>
<circle cx="801.18" cy="803.49" r="7.10" stroke="#0072BD" stroke-width="2.6" fill="none"/>
<path d="M741.69 613.68L750.19 628.48L733.19 628.48Z" stroke="#D95319" stroke-width="2.4" fill="none" stroke-linejoin="miter" stroke-miterlimit="10"/>
<path d="M748.27 630.15L756.77 644.95L739.77 644.95Z" stroke="#D95319" stroke-width="2.4" fill="none" stroke-linejoin="miter" stroke-miterlimit="10"/>
<path d="M793.28 648.81L801.78 663.61L784.78 663.61Z" stroke="#D95319" stroke-width="2.4" fill="none" stroke-linejoin="miter" stroke-miterlimit="10"/>
<path d="M740.15 683.94L748.65 698.74L731.65 698.74Z" stroke="#D95319" stroke-width="2.4" fill="none" stroke-linejoin="miter" stroke-miterlimit="10"/>
<path d="M748.49 690.52L756.99 705.32L739.99 705.32Z" stroke="#D95319" stroke-width="2.4" fill="none" stroke-linejoin="miter" stroke-miterlimit="10"/>
<path d="M878.46 672.96L886.96 687.76L869.96 687.76Z" stroke="#D95319" stroke-width="2.4" fill="none" stroke-linejoin="miter" stroke-miterlimit="10"/>
<path d="M835.21 735.53L843.71 750.33L826.71 750.33Z" stroke="#D95319" stroke-width="2.4" fill="none" stroke-linejoin="miter" stroke-miterlimit="10"/>
<path d="M815.23 749.14L823.73 763.94L806.73 763.94Z" stroke="#D95319" stroke-width="2.4" fill="none" stroke-linejoin="miter" stroke-miterlimit="10"/>
<path d="M805.57 676.04L812.87 686.04L805.57 696.04L798.27 686.04Z" stroke="#EDB120" stroke-width="2.4" fill="none" stroke-linejoin="miter" stroke-miterlimit="10"/>
<path d="M853.87 704.36L861.17 714.36L853.87 724.36L846.57 714.36Z" stroke="#EDB120" stroke-width="2.4" fill="none" stroke-linejoin="miter" stroke-miterlimit="10"/>
<path d="M907.00 726.31L914.30 736.31L907.00 746.31L899.70 736.31Z" stroke="#EDB120" stroke-width="2.4" fill="none" stroke-linejoin="miter" stroke-miterlimit="10"/>
<path d="M885.05 771.54L892.35 781.54L885.05 791.54L877.75 781.54Z" stroke="#EDB120" stroke-width="2.4" fill="none" stroke-linejoin="miter" stroke-miterlimit="10"/>
<path d="M735.32 782.51L742.62 792.51L735.32 802.51L728.02 792.51Z" stroke="#EDB120" stroke-width="2.4" fill="none" stroke-linejoin="miter" stroke-miterlimit="10"/>
<path d="M771.83 624.63L786.63 639.43M786.63 624.63L771.83 639.43" stroke="#7E2F8E" stroke-width="2.5" fill="none"/>
<path d="M739.77 728.91L754.57 743.71M754.57 728.91L739.77 743.71" stroke="#7E2F8E" stroke-width="2.5" fill="none"/>
<circle cx="598.41" cy="826.59" r="7.10" stroke="#0072BD" stroke-width="2.6" fill="none"/>
<circle cx="664.27" cy="823.29" r="7.10" stroke="#0072BD" stroke-width="2.6" fill="none"/>
<circle cx="546.38" cy="833.17" r="7.10" stroke="#0072BD" stroke-width="2.6" fill="none"/>
<circle cx="676.79" cy="832.07" r="7.10" stroke="#0072BD" stroke-width="2.6" fill="none"/>
<circle cx="570.97" cy="861.71" r="7.10" stroke="#0072BD" stroke-width="2.6" fill="none"/>
<circle cx="648.91" cy="866.10" r="7.10" stroke="#0072BD" stroke-width="2.6" fill="none"/>
<circle cx="637.93" cy="872.69" r="7.10" stroke="#0072BD" stroke-width="2.6" fill="none"/>
<circle cx="637.93" cy="884.11" r="7.10" stroke="#0072BD" stroke-width="2.6" fill="none"/>
<circle cx="692.81" cy="863.91" r="7.10" stroke="#0072BD" stroke-width="2.6" fill="none"/>
<circle cx="687.77" cy="870.93" r="7.10" stroke="#0072BD" stroke-width="2.6" fill="none"/>
<circle cx="705.99" cy="907.16" r="7.10" stroke="#0072BD" stroke-width="2.6" fill="none"/>
<circle cx="654.83" cy="917.04" r="7.10" stroke="#0072BD" stroke-width="2.6" fill="none"/>
<circle cx="691.72" cy="917.04" r="7.10" stroke="#0072BD" stroke-width="2.6" fill="none"/>
<circle cx="570.97" cy="935.70" r="7.10" stroke="#0072BD" stroke-width="2.6" fill="none"/>
<circle cx="607.19" cy="956.55" r="7.10" stroke="#0072BD" stroke-width="2.6" fill="none"/>
<circle cx="584.14" cy="968.85" r="7.10" stroke="#0072BD" stroke-width="2.6" fill="none"/>
<circle cx="690.18" cy="971.04" r="7.10" stroke="#0072BD" stroke-width="2.6" fill="none"/>
<circle cx="434.42" cy="1019.34" r="7.10" stroke="#0072BD" stroke-width="2.6" fill="none"/>
<circle cx="630.25" cy="1054.47" r="7.10" stroke="#0072BD" stroke-width="2.6" fill="none"/>
<path d="M663.18 815.70L671.68 830.50L654.68 830.50Z" stroke="#D95319" stroke-width="2.4" fill="none" stroke-linejoin="miter" stroke-miterlimit="10"/>
<path d="M428.93 844.90L437.43 859.70L420.43 859.70Z" stroke="#D95319" stroke-width="2.4" fill="none" stroke-linejoin="miter" stroke-miterlimit="10"/>
<path d="M719.16 825.80L727.66 840.60L710.66 840.60Z" stroke="#D95319" stroke-width="2.4" fill="none" stroke-linejoin="miter" stroke-miterlimit="10"/>
<path d="M668.67 846.00L677.17 860.80L660.17 860.80Z" stroke="#D95319" stroke-width="2.4" fill="none" stroke-linejoin="miter" stroke-miterlimit="10"/>
<path d="M626.95 869.05L635.45 883.85L618.45 883.85Z" stroke="#D95319" stroke-width="2.4" fill="none" stroke-linejoin="miter" stroke-miterlimit="10"/>
<path d="M551.21 884.42L559.71 899.22L542.71 899.22Z" stroke="#D95319" stroke-width="2.4" fill="none" stroke-linejoin="miter" stroke-miterlimit="10"/>
<path d="M577.12 945.89L585.62 960.69L568.62 960.69Z" stroke="#D95319" stroke-width="2.4" fill="none" stroke-linejoin="miter" stroke-miterlimit="10"/>
<path d="M645.17 824.27L652.47 834.27L645.17 844.27L637.87 834.27Z" stroke="#EDB120" stroke-width="2.4" fill="none" stroke-linejoin="miter" stroke-miterlimit="10"/>
<path d="M650.66 832.61L657.96 842.61L650.66 852.61L643.36 842.61Z" stroke="#EDB120" stroke-width="2.4" fill="none" stroke-linejoin="miter" stroke-miterlimit="10"/>
<path d="M618.17 877.40L625.47 887.40L618.17 897.40L610.87 887.40Z" stroke="#EDB120" stroke-width="2.4" fill="none" stroke-linejoin="miter" stroke-miterlimit="10"/>
<path d="M646.05 940.19L653.35 950.19L646.05 960.19L638.75 950.19Z" stroke="#EDB120" stroke-width="2.4" fill="none" stroke-linejoin="miter" stroke-miterlimit="10"/>
<path d="M514.99 1037.88L522.29 1047.88L514.99 1057.88L507.69 1047.88Z" stroke="#EDB120" stroke-width="2.4" fill="none" stroke-linejoin="miter" stroke-miterlimit="10"/>
<path d="M519.66 835.65L534.46 850.45M534.46 835.65L519.66 850.45" stroke="#7E2F8E" stroke-width="2.5" fill="none"/>
<path d="M453.36 900.85L468.16 915.65M468.16 900.85L453.36 915.65" stroke="#7E2F8E" stroke-width="2.5" fill="none"/>
<path d="M501.00 916.22L515.80 931.02M515.80 916.22L501.00 931.02" stroke="#7E2F8E" stroke-width="2.5" fill="none"/>
<path d="M464.34 954.86L479.14 969.66M479.14 954.86L464.34 969.66" stroke="#7E2F8E" stroke-width="2.5" fill="none"/>
<path d="M603.53 1001.84L618.33 1016.64M618.33 1001.84L603.53 1016.64" stroke="#7E2F8E" stroke-width="2.5" fill="none"/>
<circle cx="777.03" cy="827.03" r="7.10" stroke="#0072BD" stroke-width="2.6" fill="none"/>
<circle cx="788.01" cy="840.20" r="7.10" stroke="#0072BD" stroke-width="2.6" fill="none"/>
<circle cx="840.70" cy="835.81" r="7.10" stroke="#0072BD" stroke-width="2.6" fill="none"/>
<circle cx="836.31" cy="845.69" r="7.10" stroke="#0072BD" stroke-width="2.6" fill="none"/>
<circle cx="743.88" cy="862.15" r="7.10" stroke="#0072BD" stroke-width="2.6" fill="none"/>
<circle cx="753.98" cy="865.44" r="7.10" stroke="#0072BD" stroke-width="2.6" fill="none"/>
<circle cx="754.86" cy="895.08" r="7.10" stroke="#0072BD" stroke-width="2.6" fill="none"/>
<circle cx="724.34" cy="974.34" r="7.10" stroke="#0072BD" stroke-width="2.6" fill="none"/>
<path d="M748.27 905.94L755.57 915.94L748.27 925.94L740.97 915.94Z" stroke="#EDB120" stroke-width="2.4" fill="none" stroke-linejoin="miter" stroke-miterlimit="10"/>
<path d="M780.32 986.29L787.62 996.29L780.32 1006.29L773.02 996.29Z" stroke="#EDB120" stroke-width="2.4" fill="none" stroke-linejoin="miter" stroke-miterlimit="10"/>
<path d="M724.41 863.09L739.21 877.89M739.21 863.09L724.41 877.89" stroke="#7E2F8E" stroke-width="2.5" fill="none"/>
<line x1="421.20" y1="853.55" x2="1022.60" y2="688.81" stroke="#000" stroke-width="2.6" stroke-dasharray="5.8 2.9"/>
<path d="M421.20 585.30V1060.40H1024.00" stroke="#262626" stroke-width="2.8" fill="none" stroke-linejoin="miter"/>
<line x1="421.20" y1="1060.40" x2="428.80" y2="1060.40" stroke="#262626" stroke-width="2.8"/>
<text x="413.40" y="1068.00" font-size="18.7" fill="#262626" text-anchor="end">1.9</text>
<line x1="421.20" y1="1007.77" x2="428.80" y2="1007.77" stroke="#262626" stroke-width="2.8"/>
<text x="413.40" y="1015.37" font-size="18.7" fill="#262626" text-anchor="end">2.0</text>
<line x1="421.20" y1="955.13" x2="428.80" y2="955.13" stroke="#262626" stroke-width="2.8"/>
<text x="413.40" y="962.73" font-size="18.7" fill="#262626" text-anchor="end">2.1</text>
<line x1="421.20" y1="902.50" x2="428.80" y2="902.50" stroke="#262626" stroke-width="2.8"/>
<text x="413.40" y="910.10" font-size="18.7" fill="#262626" text-anchor="end">2.2</text>
<line x1="421.20" y1="849.87" x2="428.80" y2="849.87" stroke="#262626" stroke-width="2.8"/>
<text x="413.40" y="857.47" font-size="18.7" fill="#262626" text-anchor="end">2.3</text>
<line x1="421.20" y1="797.23" x2="428.80" y2="797.23" stroke="#262626" stroke-width="2.8"/>
<text x="413.40" y="804.83" font-size="18.7" fill="#262626" text-anchor="end">2.4</text>
<line x1="421.20" y1="744.60" x2="428.80" y2="744.60" stroke="#262626" stroke-width="2.8"/>
<text x="413.40" y="752.20" font-size="18.7" fill="#262626" text-anchor="end">2.5</text>
<line x1="421.20" y1="691.97" x2="428.80" y2="691.97" stroke="#262626" stroke-width="2.8"/>
<text x="413.40" y="699.57" font-size="18.7" fill="#262626" text-anchor="end">2.6</text>
<line x1="421.20" y1="639.33" x2="428.80" y2="639.33" stroke="#262626" stroke-width="2.8"/>
<text x="413.40" y="646.93" font-size="18.7" fill="#262626" text-anchor="end">2.7</text>
<line x1="421.20" y1="586.70" x2="428.80" y2="586.70" stroke="#262626" stroke-width="2.8"/>
<text x="413.40" y="594.30" font-size="18.7" fill="#262626" text-anchor="end">2.8</text>
<line x1="421.20" y1="1060.40" x2="421.20" y2="1052.80" stroke="#262626" stroke-width="2.8"/>
<text x="421.20" y="1087.20" font-size="18.7" fill="#262626" text-anchor="middle">45</text>
<line x1="507.11" y1="1060.40" x2="507.11" y2="1052.80" stroke="#262626" stroke-width="2.8"/>
<text x="507.11" y="1087.20" font-size="18.7" fill="#262626" text-anchor="middle">50</text>
<line x1="593.03" y1="1060.40" x2="593.03" y2="1052.80" stroke="#262626" stroke-width="2.8"/>
<text x="593.03" y="1087.20" font-size="18.7" fill="#262626" text-anchor="middle">55</text>
<line x1="678.94" y1="1060.40" x2="678.94" y2="1052.80" stroke="#262626" stroke-width="2.8"/>
<text x="678.94" y="1087.20" font-size="18.7" fill="#262626" text-anchor="middle">60</text>
<line x1="764.86" y1="1060.40" x2="764.86" y2="1052.80" stroke="#262626" stroke-width="2.8"/>
<text x="764.86" y="1087.20" font-size="18.7" fill="#262626" text-anchor="middle">65</text>
<line x1="850.77" y1="1060.40" x2="850.77" y2="1052.80" stroke="#262626" stroke-width="2.8"/>
<text x="850.77" y="1087.20" font-size="18.7" fill="#262626" text-anchor="middle">70</text>
<line x1="936.69" y1="1060.40" x2="936.69" y2="1052.80" stroke="#262626" stroke-width="2.8"/>
<text x="936.69" y="1087.20" font-size="18.7" fill="#262626" text-anchor="middle">75</text>
<line x1="1022.60" y1="1060.40" x2="1022.60" y2="1052.80" stroke="#262626" stroke-width="2.8"/>
<text x="1022.60" y="1087.20" font-size="18.7" fill="#262626" text-anchor="middle">80</text>
<text x="721.90" y="1115.20" font-size="20.3" fill="#262626" text-anchor="middle">Mean cross-sectional area in mm²</text>
<text transform="translate(376.90 834.75) rotate(-90)" font-size="20.3" fill="#262626" text-anchor="middle">FS cortical thickness precentral gyrus left in mm</text>
<text transform="translate(351.8 606) scale(0.99 1)" font-size="50.5" fill="#231f20">d</text>
<text x="905.9" y="777" font-size="18.7" fill="#1a1a1a">r=0.3, p&lt;0.001</text>
<rect x="857.6" y="941" width="142.89999999999998" height="96.79999999999995" fill="#fff" stroke="#262626" stroke-width="1.6"/>
<circle cx="883.60" cy="955.00" r="5.68" stroke="#0072BD" stroke-width="2.5" fill="none"/>
<text x="909.1" y="961.80" font-size="17" fill="#000">classic ALS</text>
<path d="M883.60 970.53L890.40 982.37L876.80 982.37Z" stroke="#D95319" stroke-width="2.3" fill="none" stroke-linejoin="miter" stroke-miterlimit="10"/>
<text x="909.1" y="984.65" font-size="17" fill="#000">LMND</text>
<path d="M883.60 992.70L889.44 1000.70L883.60 1008.70L877.76 1000.70Z" stroke="#EDB120" stroke-width="2.3" fill="none" stroke-linejoin="miter" stroke-miterlimit="10"/>
<text x="909.1" y="1007.50" font-size="17" fill="#000">UMND</text>
<path d="M878.12 1018.07L889.08 1029.03M889.08 1018.07L878.12 1029.03" stroke="#7E2F8E" stroke-width="2.5" fill="none"/>
<text x="909.1" y="1030.35" font-size="17" fill="#000">PLS</text></g>
<g><circle cx="1166.10" cy="692.40" r="7.10" stroke="#0072BD" stroke-width="2.6" fill="none"/>
<circle cx="1172.25" cy="771.00" r="7.10" stroke="#0072BD" stroke-width="2.6" fill="none"/>
<circle cx="1228.01" cy="733.24" r="7.10" stroke="#0072BD" stroke-width="2.6" fill="none"/>
<circle cx="1238.11" cy="781.54" r="7.10" stroke="#0072BD" stroke-width="2.6" fill="none"/>
<circle cx="1183.67" cy="817.10" r="7.10" stroke="#0072BD" stroke-width="2.6" fill="none"/>
<circle cx="1273.68" cy="789.66" r="7.10" stroke="#0072BD" stroke-width="2.6" fill="none"/>
<circle cx="1279.17" cy="785.27" r="7.10" stroke="#0072BD" stroke-width="2.6" fill="none"/>
<circle cx="1291.24" cy="761.12" r="7.10" stroke="#0072BD" stroke-width="2.6" fill="none"/>
<circle cx="1309.90" cy="786.37" r="7.10" stroke="#0072BD" stroke-width="2.6" fill="none"/>
<circle cx="1323.07" cy="656.18" r="7.10" stroke="#0072BD" stroke-width="2.6" fill="none"/>
<circle cx="1335.59" cy="675.94" r="7.10" stroke="#0072BD" stroke-width="2.6" fill="none"/>
<circle cx="1349.86" cy="670.01" r="7.10" stroke="#0072BD" stroke-width="2.6" fill="none"/>
<circle cx="1354.47" cy="663.42" r="7.10" stroke="#0072BD" stroke-width="2.6" fill="none"/>
<circle cx="1366.54" cy="674.84" r="7.10" stroke="#0072BD" stroke-width="2.6" fill="none"/>
<circle cx="1393.33" cy="623.91" r="7.10" stroke="#0072BD" stroke-width="2.6" fill="none"/>
<circle cx="1384.54" cy="696.36" r="7.10" stroke="#0072BD" stroke-width="2.6" fill="none"/>
<circle cx="1380.81" cy="706.89" r="7.10" stroke="#0072BD" stroke-width="2.6" fill="none"/>
<circle cx="1355.35" cy="710.19" r="7.10" stroke="#0072BD" stroke-width="2.6" fill="none"/>
<circle cx="1320.22" cy="717.87" r="7.10" stroke="#0072BD" stroke-width="2.6" fill="none"/>
<circle cx="1409.79" cy="741.36" r="7.10" stroke="#0072BD" stroke-width="2.6" fill="none"/>
<circle cx="1362.15" cy="752.34" r="7.10" stroke="#0072BD" stroke-width="2.6" fill="none"/>
<circle cx="1363.25" cy="773.85" r="7.10" stroke="#0072BD" stroke-width="2.6" fill="none"/>
<circle cx="1379.06" cy="777.59" r="7.10" stroke="#0072BD" stroke-width="2.6" fill="none"/>
<circle cx="1341.30" cy="791.86" r="7.10" stroke="#0072BD" stroke-width="2.6" fill="none"/>
<circle cx="1362.59" cy="791.86" r="7.10" stroke="#0072BD" stroke-width="2.6" fill="none"/>
<circle cx="1374.67" cy="797.78" r="7.10" stroke="#0072BD" stroke-width="2.6" fill="none"/>
<circle cx="1350.95" cy="808.32" r="7.10" stroke="#0072BD" stroke-width="2.6" fill="none"/>
<circle cx="1396.62" cy="808.32" r="7.10" stroke="#0072BD" stroke-width="2.6" fill="none"/>
<circle cx="1400.57" cy="770.56" r="7.10" stroke="#0072BD" stroke-width="2.6" fill="none"/>
<circle cx="1401.89" cy="771.88" r="7.10" stroke="#0072BD" stroke-width="2.6" fill="none"/>
<circle cx="1425.16" cy="769.24" r="7.10" stroke="#0072BD" stroke-width="2.6" fill="none"/>
<circle cx="1422.96" cy="783.07" r="7.10" stroke="#0072BD" stroke-width="2.6" fill="none"/>
<circle cx="1333.39" cy="815.35" r="7.10" stroke="#0072BD" stroke-width="2.6" fill="none"/>
<path d="M1260.50 660.89L1269.00 675.69L1252.00 675.69Z" stroke="#D95319" stroke-width="2.4" fill="none" stroke-linejoin="miter" stroke-miterlimit="10"/>
<path d="M1134.93 786.02L1143.43 800.82L1126.43 800.82Z" stroke="#D95319" stroke-width="2.4" fill="none" stroke-linejoin="miter" stroke-miterlimit="10"/>
<path d="M1334.49 726.75L1342.99 741.55L1325.99 741.55Z" stroke="#D95319" stroke-width="2.4" fill="none" stroke-linejoin="miter" stroke-miterlimit="10"/>
<path d="M1393.33 706.99L1401.83 721.79L1384.83 721.79Z" stroke="#D95319" stroke-width="2.4" fill="none" stroke-linejoin="miter" stroke-miterlimit="10"/>
<path d="M1393.33 719.06L1401.83 733.86L1384.83 733.86Z" stroke="#D95319" stroke-width="2.4" fill="none" stroke-linejoin="miter" stroke-miterlimit="10"/>
<path d="M1353.37 751.99L1361.87 766.79L1344.87 766.79Z" stroke="#D95319" stroke-width="2.4" fill="none" stroke-linejoin="miter" stroke-miterlimit="10"/>
<path d="M1369.18 771.75L1377.68 786.55L1360.68 786.55Z" stroke="#D95319" stroke-width="2.4" fill="none" stroke-linejoin="miter" stroke-miterlimit="10"/>
<path d="M1371.37 771.75L1379.87 786.55L1362.87 786.55Z" stroke="#D95319" stroke-width="2.4" fill="none" stroke-linejoin="miter" stroke-miterlimit="10"/>
<path d="M1402.11 772.41L1410.61 787.21L1393.61 787.21Z" stroke="#D95319" stroke-width="2.4" fill="none" stroke-linejoin="miter" stroke-miterlimit="10"/>
<path d="M1329.66 801.39L1338.16 816.19L1321.16 816.19Z" stroke="#D95319" stroke-width="2.4" fill="none" stroke-linejoin="miter" stroke-miterlimit="10"/>
<path d="M1325.71 636.96L1333.01 646.96L1325.71 656.96L1318.41 646.96Z" stroke="#EDB120" stroke-width="2.4" fill="none" stroke-linejoin="miter" stroke-miterlimit="10"/>
<path d="M1320.88 740.80L1328.18 750.80L1320.88 760.80L1313.58 750.80Z" stroke="#EDB120" stroke-width="2.4" fill="none" stroke-linejoin="miter" stroke-miterlimit="10"/>
<path d="M1353.37 762.10L1360.67 772.10L1353.37 782.10L1346.07 772.10Z" stroke="#EDB120" stroke-width="2.4" fill="none" stroke-linejoin="miter" stroke-miterlimit="10"/>
<path d="M1275.43 774.17L1282.73 784.17L1275.43 794.17L1268.13 784.17Z" stroke="#EDB120" stroke-width="2.4" fill="none" stroke-linejoin="miter" stroke-miterlimit="10"/>
<path d="M1207.44 723.64L1222.24 738.44M1222.24 723.64L1207.44 738.44" stroke="#7E2F8E" stroke-width="2.5" fill="none"/>
<path d="M1159.80 752.18L1174.60 766.98M1174.60 752.18L1159.80 766.98" stroke="#7E2F8E" stroke-width="2.5" fill="none"/>
<path d="M1170.78 767.99L1185.58 782.79M1185.58 767.99L1170.78 782.79" stroke="#7E2F8E" stroke-width="2.5" fill="none"/>
<path d="M1226.32 785.55L1241.12 800.35M1241.12 785.55L1226.32 800.35" stroke="#7E2F8E" stroke-width="2.5" fill="none"/>
<path d="M1310.19 736.82L1324.99 751.62M1324.99 736.82L1310.19 751.62" stroke="#7E2F8E" stroke-width="2.5" fill="none"/>
<path d="M1400.20 709.15L1415.00 723.95M1415.00 709.15L1400.20 723.95" stroke="#7E2F8E" stroke-width="2.5" fill="none"/>
<circle cx="1536.40" cy="605.91" r="7.10" stroke="#0072BD" stroke-width="2.6" fill="none"/>
<circle cx="1533.77" cy="618.42" r="7.10" stroke="#0072BD" stroke-width="2.6" fill="none"/>
<circle cx="1672.52" cy="642.57" r="7.10" stroke="#0072BD" stroke-width="2.6" fill="none"/>
<circle cx="1564.94" cy="659.03" r="7.10" stroke="#0072BD" stroke-width="2.6" fill="none"/>
<circle cx="1639.15" cy="660.13" r="7.10" stroke="#0072BD" stroke-width="2.6" fill="none"/>
<circle cx="1535.96" cy="688.01" r="7.10" stroke="#0072BD" stroke-width="2.6" fill="none"/>
<circle cx="1575.48" cy="683.18" r="7.10" stroke="#0072BD" stroke-width="2.6" fill="none"/>
<circle cx="1443.32" cy="694.16" r="7.10" stroke="#0072BD" stroke-width="2.6" fill="none"/>
<circle cx="1439.81" cy="715.68" r="7.10" stroke="#0072BD" stroke-width="2.6" fill="none"/>
<circle cx="1465.05" cy="711.72" r="7.10" stroke="#0072BD" stroke-width="2.6" fill="none"/>
<circle cx="1470.76" cy="717.87" r="7.10" stroke="#0072BD" stroke-width="2.6" fill="none"/>
<circle cx="1465.27" cy="722.26" r="7.10" stroke="#0072BD" stroke-width="2.6" fill="none"/>
<circle cx="1568.24" cy="712.38" r="7.10" stroke="#0072BD" stroke-width="2.6" fill="none"/>
<circle cx="1604.68" cy="735.43" r="7.10" stroke="#0072BD" stroke-width="2.6" fill="none"/>
<circle cx="1434.32" cy="754.53" r="7.10" stroke="#0072BD" stroke-width="2.6" fill="none"/>
<circle cx="1448.59" cy="754.53" r="7.10" stroke="#0072BD" stroke-width="2.6" fill="none"/>
<circle cx="1494.69" cy="751.24" r="7.10" stroke="#0072BD" stroke-width="2.6" fill="none"/>
<circle cx="1496.01" cy="756.29" r="7.10" stroke="#0072BD" stroke-width="2.6" fill="none"/>
<circle cx="1549.14" cy="755.63" r="7.10" stroke="#0072BD" stroke-width="2.6" fill="none"/>
<circle cx="1578.34" cy="778.68" r="7.10" stroke="#0072BD" stroke-width="2.6" fill="none"/>
<circle cx="1463.52" cy="781.98" r="7.10" stroke="#0072BD" stroke-width="2.6" fill="none"/>
<circle cx="1463.08" cy="788.56" r="7.10" stroke="#0072BD" stroke-width="2.6" fill="none"/>
<circle cx="1433.22" cy="798.44" r="7.10" stroke="#0072BD" stroke-width="2.6" fill="none"/>
<circle cx="1451.44" cy="795.15" r="7.10" stroke="#0072BD" stroke-width="2.6" fill="none"/>
<circle cx="1514.01" cy="794.05" r="7.10" stroke="#0072BD" stroke-width="2.6" fill="none"/>
<circle cx="1544.75" cy="790.76" r="7.10" stroke="#0072BD" stroke-width="2.6" fill="none"/>
<circle cx="1580.53" cy="800.64" r="7.10" stroke="#0072BD" stroke-width="2.6" fill="none"/>
<circle cx="1594.80" cy="800.20" r="7.10" stroke="#0072BD" stroke-width="2.6" fill="none"/>
<circle cx="1643.54" cy="813.81" r="7.10" stroke="#0072BD" stroke-width="2.6" fill="none"/>
<circle cx="1489.20" cy="806.13" r="7.10" stroke="#0072BD" stroke-width="2.6" fill="none"/>
<circle cx="1484.37" cy="811.61" r="7.10" stroke="#0072BD" stroke-width="2.6" fill="none"/>
<circle cx="1456.49" cy="816.00" r="7.10" stroke="#0072BD" stroke-width="2.6" fill="none"/>
<path d="M1456.49 595.46L1464.99 610.26L1447.99 610.26Z" stroke="#D95319" stroke-width="2.4" fill="none" stroke-linejoin="miter" stroke-miterlimit="10"/>
<path d="M1543.65 656.49L1552.15 671.29L1535.15 671.29Z" stroke="#D95319" stroke-width="2.4" fill="none" stroke-linejoin="miter" stroke-miterlimit="10"/>
<path d="M1586.90 674.06L1595.40 688.86L1578.40 688.86Z" stroke="#D95319" stroke-width="2.4" fill="none" stroke-linejoin="miter" stroke-miterlimit="10"/>
<path d="M1501.94 695.35L1510.44 710.15L1493.44 710.15Z" stroke="#D95319" stroke-width="2.4" fill="none" stroke-linejoin="miter" stroke-miterlimit="10"/>
<path d="M1523.89 744.31L1532.39 759.11L1515.39 759.11Z" stroke="#D95319" stroke-width="2.4" fill="none" stroke-linejoin="miter" stroke-miterlimit="10"/>
<path d="M1427.29 772.41L1435.79 787.21L1418.79 787.21Z" stroke="#D95319" stroke-width="2.4" fill="none" stroke-linejoin="miter" stroke-miterlimit="10"/>
<path d="M1448.59 772.85L1457.09 787.65L1440.09 787.65Z" stroke="#D95319" stroke-width="2.4" fill="none" stroke-linejoin="miter" stroke-miterlimit="10"/>
<path d="M1449.25 790.41L1457.75 805.21L1440.75 805.21Z" stroke="#D95319" stroke-width="2.4" fill="none" stroke-linejoin="miter" stroke-miterlimit="10"/>
<path d="M1456.49 798.10L1464.99 812.90L1447.99 812.90Z" stroke="#D95319" stroke-width="2.4" fill="none" stroke-linejoin="miter" stroke-miterlimit="10"/>
<path d="M1443.32 682.40L1450.62 692.40L1443.32 702.40L1436.02 692.40Z" stroke="#EDB120" stroke-width="2.4" fill="none" stroke-linejoin="miter" stroke-miterlimit="10"/>
<path d="M1615.66 692.28L1622.96 702.28L1615.66 712.28L1608.36 702.28Z" stroke="#EDB120" stroke-width="2.4" fill="none" stroke-linejoin="miter" stroke-miterlimit="10"/>
<path d="M1456.49 758.80L1463.79 768.80L1456.49 778.80L1449.19 768.80Z" stroke="#EDB120" stroke-width="2.4" fill="none" stroke-linejoin="miter" stroke-miterlimit="10"/>
<path d="M1562.75 748.92L1570.05 758.92L1562.75 768.92L1555.45 758.92Z" stroke="#EDB120" stroke-width="2.4" fill="none" stroke-linejoin="miter" stroke-miterlimit="10"/>
<path d="M1593.70 781.86L1601.00 791.86L1593.70 801.86L1586.40 791.86Z" stroke="#EDB120" stroke-width="2.4" fill="none" stroke-linejoin="miter" stroke-miterlimit="10"/>
<path d="M1514.01 800.52L1521.31 810.52L1514.01 820.52L1506.71 810.52Z" stroke="#EDB120" stroke-width="2.4" fill="none" stroke-linejoin="miter" stroke-miterlimit="10"/>
<path d="M1480.27 763.60L1495.07 778.40M1495.07 763.60L1480.27 778.40" stroke="#7E2F8E" stroke-width="2.5" fill="none"/>
<path d="M1448.43 799.82L1463.23 814.62M1463.23 799.82L1448.43 814.62" stroke="#7E2F8E" stroke-width="2.5" fill="none"/>
<path d="M1431.97 809.26L1446.77 824.06M1446.77 809.26L1431.97 824.06" stroke="#7E2F8E" stroke-width="2.5" fill="none"/>
<circle cx="1225.38" cy="825.49" r="7.10" stroke="#0072BD" stroke-width="2.6" fill="none"/>
<circle cx="1253.48" cy="828.78" r="7.10" stroke="#0072BD" stroke-width="2.6" fill="none"/>
<circle cx="1284.65" cy="825.49" r="7.10" stroke="#0072BD" stroke-width="2.6" fill="none"/>
<circle cx="1316.49" cy="824.39" r="7.10" stroke="#0072BD" stroke-width="2.6" fill="none"/>
<circle cx="1335.15" cy="826.59" r="7.10" stroke="#0072BD" stroke-width="2.6" fill="none"/>
<circle cx="1345.03" cy="825.49" r="7.10" stroke="#0072BD" stroke-width="2.6" fill="none"/>
<circle cx="1346.13" cy="830.54" r="7.10" stroke="#0072BD" stroke-width="2.6" fill="none"/>
<circle cx="1166.10" cy="851.83" r="7.10" stroke="#0072BD" stroke-width="2.6" fill="none"/>
<circle cx="1218.13" cy="842.61" r="7.10" stroke="#0072BD" stroke-width="2.6" fill="none"/>
<circle cx="1240.31" cy="848.54" r="7.10" stroke="#0072BD" stroke-width="2.6" fill="none"/>
<circle cx="1293.44" cy="845.25" r="7.10" stroke="#0072BD" stroke-width="2.6" fill="none"/>
<circle cx="1306.17" cy="854.03" r="7.10" stroke="#0072BD" stroke-width="2.6" fill="none"/>
<circle cx="1335.59" cy="841.95" r="7.10" stroke="#0072BD" stroke-width="2.6" fill="none"/>
<circle cx="1349.42" cy="849.64" r="7.10" stroke="#0072BD" stroke-width="2.6" fill="none"/>
<circle cx="1357.10" cy="840.86" r="7.10" stroke="#0072BD" stroke-width="2.6" fill="none"/>
<circle cx="1414.18" cy="836.47" r="7.10" stroke="#0072BD" stroke-width="2.6" fill="none"/>
<circle cx="1401.01" cy="850.74" r="7.10" stroke="#0072BD" stroke-width="2.6" fill="none"/>
<circle cx="1413.08" cy="860.61" r="7.10" stroke="#0072BD" stroke-width="2.6" fill="none"/>
<circle cx="1398.81" cy="870.93" r="7.10" stroke="#0072BD" stroke-width="2.6" fill="none"/>
<circle cx="1338.00" cy="895.30" r="7.10" stroke="#0072BD" stroke-width="2.6" fill="none"/>
<circle cx="1373.57" cy="900.57" r="7.10" stroke="#0072BD" stroke-width="2.6" fill="none"/>
<circle cx="1397.72" cy="897.28" r="7.10" stroke="#0072BD" stroke-width="2.6" fill="none"/>
<circle cx="1397.72" cy="920.55" r="7.10" stroke="#0072BD" stroke-width="2.6" fill="none"/>
<circle cx="1395.52" cy="942.94" r="7.10" stroke="#0072BD" stroke-width="2.6" fill="none"/>
<circle cx="1245.80" cy="906.06" r="7.10" stroke="#0072BD" stroke-width="2.6" fill="none"/>
<circle cx="1278.07" cy="932.62" r="7.10" stroke="#0072BD" stroke-width="2.6" fill="none"/>
<circle cx="1314.73" cy="968.19" r="7.10" stroke="#0072BD" stroke-width="2.6" fill="none"/>
<circle cx="1140.86" cy="1025.71" r="7.10" stroke="#0072BD" stroke-width="2.6" fill="none"/>
<path d="M1188.50 842.05L1197.00 856.85L1180.00 856.85Z" stroke="#D95319" stroke-width="2.4" fill="none" stroke-linejoin="miter" stroke-miterlimit="10"/>
<path d="M1257.87 851.49L1266.37 866.29L1249.37 866.29Z" stroke="#D95319" stroke-width="2.4" fill="none" stroke-linejoin="miter" stroke-miterlimit="10"/>
<path d="M1284.22 831.07L1292.72 845.87L1275.72 845.87Z" stroke="#D95319" stroke-width="2.4" fill="none" stroke-linejoin="miter" stroke-miterlimit="10"/>
<path d="M1293.44 840.95L1301.94 855.75L1284.94 855.75Z" stroke="#D95319" stroke-width="2.4" fill="none" stroke-linejoin="miter" stroke-miterlimit="10"/>
<path d="M1366.98 827.78L1375.48 842.58L1358.48 842.58Z" stroke="#D95319" stroke-width="2.4" fill="none" stroke-linejoin="miter" stroke-miterlimit="10"/>
<path d="M1376.86 846.44L1385.36 861.24L1368.36 861.24Z" stroke="#D95319" stroke-width="2.4" fill="none" stroke-linejoin="miter" stroke-miterlimit="10"/>
<path d="M1415.28 817.02L1423.78 831.82L1406.78 831.82Z" stroke="#D95319" stroke-width="2.4" fill="none" stroke-linejoin="miter" stroke-miterlimit="10"/>
<path d="M1204.96 883.32L1213.46 898.12L1196.46 898.12Z" stroke="#D95319" stroke-width="2.4" fill="none" stroke-linejoin="miter" stroke-miterlimit="10"/>
<path d="M1221.43 838.54L1228.73 848.54L1221.43 858.54L1214.13 848.54Z" stroke="#EDB120" stroke-width="2.4" fill="none" stroke-linejoin="miter" stroke-miterlimit="10"/>
<path d="M1357.54 848.86L1364.84 858.86L1357.54 868.86L1350.24 858.86Z" stroke="#EDB120" stroke-width="2.4" fill="none" stroke-linejoin="miter" stroke-miterlimit="10"/>
<path d="M1353.37 928.11L1360.67 938.11L1353.37 948.11L1346.07 938.11Z" stroke="#EDB120" stroke-width="2.4" fill="none" stroke-linejoin="miter" stroke-miterlimit="10"/>
<circle cx="1509.62" cy="823.29" r="7.10" stroke="#0072BD" stroke-width="2.6" fill="none"/>
<circle cx="1543.65" cy="823.95" r="7.10" stroke="#0072BD" stroke-width="2.6" fill="none"/>
<circle cx="1654.52" cy="823.95" r="7.10" stroke="#0072BD" stroke-width="2.6" fill="none"/>
<circle cx="1458.03" cy="821.10" r="7.10" stroke="#0072BD" stroke-width="2.6" fill="none"/>
<circle cx="1445.95" cy="824.39" r="7.10" stroke="#0072BD" stroke-width="2.6" fill="none"/>
<circle cx="1452.54" cy="829.88" r="7.10" stroke="#0072BD" stroke-width="2.6" fill="none"/>
<circle cx="1431.68" cy="833.17" r="7.10" stroke="#0072BD" stroke-width="2.6" fill="none"/>
<circle cx="1437.61" cy="848.54" r="7.10" stroke="#0072BD" stroke-width="2.6" fill="none"/>
<circle cx="1464.61" cy="840.86" r="7.10" stroke="#0072BD" stroke-width="2.6" fill="none"/>
<circle cx="1474.49" cy="841.51" r="7.10" stroke="#0072BD" stroke-width="2.6" fill="none"/>
<circle cx="1512.91" cy="849.64" r="7.10" stroke="#0072BD" stroke-width="2.6" fill="none"/>
<circle cx="1473.40" cy="872.03" r="7.10" stroke="#0072BD" stroke-width="2.6" fill="none"/>
<circle cx="1432.34" cy="878.62" r="7.10" stroke="#0072BD" stroke-width="2.6" fill="none"/>
<circle cx="1550.67" cy="904.08" r="7.10" stroke="#0072BD" stroke-width="2.6" fill="none"/>
<circle cx="1667.03" cy="849.64" r="7.10" stroke="#0072BD" stroke-width="2.6" fill="none"/>
<path d="M1488.32 845.13L1495.62 855.13L1488.32 865.13L1481.02 855.13Z" stroke="#EDB120" stroke-width="2.4" fill="none" stroke-linejoin="miter" stroke-miterlimit="10"/>
<line x1="1127.40" y1="830.18" x2="1728.50" y2="731.89" stroke="#000" stroke-width="2.6" stroke-dasharray="5.8 2.9"/>
<path d="M1127.40 585.30V1060.40H1729.90" stroke="#262626" stroke-width="2.8" fill="none" stroke-linejoin="miter"/>
<line x1="1127.40" y1="1060.40" x2="1135.00" y2="1060.40" stroke="#262626" stroke-width="2.8"/>
<text x="1119.60" y="1068.00" font-size="18.7" fill="#262626" text-anchor="end">3.5</text>
<line x1="1127.40" y1="1001.19" x2="1135.00" y2="1001.19" stroke="#262626" stroke-width="2.8"/>
<text x="1119.60" y="1008.79" font-size="18.7" fill="#262626" text-anchor="end">4</text>
<line x1="1127.40" y1="941.98" x2="1135.00" y2="941.98" stroke="#262626" stroke-width="2.8"/>
<text x="1119.60" y="949.58" font-size="18.7" fill="#262626" text-anchor="end">4.5</text>
<line x1="1127.40" y1="882.76" x2="1135.00" y2="882.76" stroke="#262626" stroke-width="2.8"/>
<text x="1119.60" y="890.36" font-size="18.7" fill="#262626" text-anchor="end">5</text>
<line x1="1127.40" y1="823.55" x2="1135.00" y2="823.55" stroke="#262626" stroke-width="2.8"/>
<text x="1119.60" y="831.15" font-size="18.7" fill="#262626" text-anchor="end">5.5</text>
<line x1="1127.40" y1="764.34" x2="1135.00" y2="764.34" stroke="#262626" stroke-width="2.8"/>
<text x="1119.60" y="771.94" font-size="18.7" fill="#262626" text-anchor="end">6</text>
<line x1="1127.40" y1="705.12" x2="1135.00" y2="705.12" stroke="#262626" stroke-width="2.8"/>
<text x="1119.60" y="712.73" font-size="18.7" fill="#262626" text-anchor="end">6.5</text>
<line x1="1127.40" y1="645.91" x2="1135.00" y2="645.91" stroke="#262626" stroke-width="2.8"/>
<text x="1119.60" y="653.51" font-size="18.7" fill="#262626" text-anchor="end">7</text>
<line x1="1127.40" y1="586.70" x2="1135.00" y2="586.70" stroke="#262626" stroke-width="2.8"/>
<text x="1119.60" y="594.30" font-size="18.7" fill="#262626" text-anchor="end">7.5</text>
<line x1="1127.40" y1="1060.40" x2="1127.40" y2="1052.80" stroke="#262626" stroke-width="2.8"/>
<text x="1127.40" y="1087.20" font-size="18.7" fill="#262626" text-anchor="middle">45</text>
<line x1="1213.27" y1="1060.40" x2="1213.27" y2="1052.80" stroke="#262626" stroke-width="2.8"/>
<text x="1213.27" y="1087.20" font-size="18.7" fill="#262626" text-anchor="middle">50</text>
<line x1="1299.14" y1="1060.40" x2="1299.14" y2="1052.80" stroke="#262626" stroke-width="2.8"/>
<text x="1299.14" y="1087.20" font-size="18.7" fill="#262626" text-anchor="middle">55</text>
<line x1="1385.01" y1="1060.40" x2="1385.01" y2="1052.80" stroke="#262626" stroke-width="2.8"/>
<text x="1385.01" y="1087.20" font-size="18.7" fill="#262626" text-anchor="middle">60</text>
<line x1="1470.89" y1="1060.40" x2="1470.89" y2="1052.80" stroke="#262626" stroke-width="2.8"/>
<text x="1470.89" y="1087.20" font-size="18.7" fill="#262626" text-anchor="middle">65</text>
<line x1="1556.76" y1="1060.40" x2="1556.76" y2="1052.80" stroke="#262626" stroke-width="2.8"/>
<text x="1556.76" y="1087.20" font-size="18.7" fill="#262626" text-anchor="middle">70</text>
<line x1="1642.63" y1="1060.40" x2="1642.63" y2="1052.80" stroke="#262626" stroke-width="2.8"/>
<text x="1642.63" y="1087.20" font-size="18.7" fill="#262626" text-anchor="middle">75</text>
<line x1="1728.50" y1="1060.40" x2="1728.50" y2="1052.80" stroke="#262626" stroke-width="2.8"/>
<text x="1728.50" y="1087.20" font-size="18.7" fill="#262626" text-anchor="middle">80</text>
<text x="1427.95" y="1113.60" font-size="19.7" fill="#262626" text-anchor="middle">Mean cross-sectional area in mm²</text>
<text transform="translate(1084.00 826.00) rotate(-90)" font-size="20.1" fill="#262626" text-anchor="middle">FSL SIENAX adjusted GM volume in mm³</text>
<text transform="translate(1054.7 605.6) scale(1.0 1)" font-size="52" fill="#231f20">e</text>
<text x="1611.8" y="779.7" font-size="18.7" fill="#1a1a1a">r=0.3, p=0.001</text>
<rect x="1566.3" y="940.3" width="143.70000000000005" height="97.5" fill="#fff" stroke="#262626" stroke-width="1.6"/>
<circle cx="1592.30" cy="954.30" r="5.68" stroke="#0072BD" stroke-width="2.5" fill="none"/>
<text x="1617.8" y="961.10" font-size="17" fill="#000">classic ALS</text>
<path d="M1592.30 969.83L1599.10 981.67L1585.50 981.67Z" stroke="#D95319" stroke-width="2.3" fill="none" stroke-linejoin="miter" stroke-miterlimit="10"/>
<text x="1617.8" y="983.95" font-size="17" fill="#000">LMND</text>
<path d="M1592.30 992.00L1598.14 1000.00L1592.30 1008.00L1586.46 1000.00Z" stroke="#EDB120" stroke-width="2.3" fill="none" stroke-linejoin="miter" stroke-miterlimit="10"/>
<text x="1617.8" y="1006.80" font-size="17" fill="#000">UMND</text>
<path d="M1586.82 1017.37L1597.78 1028.33M1597.78 1017.37L1586.82 1028.33" stroke="#7E2F8E" stroke-width="2.5" fill="none"/>
<text x="1617.8" y="1029.65" font-size="17" fill="#000">PLS</text>
<text x="1127" y="584.5" font-size="16" fill="#262626">×</text><text x="1142" y="586.3" font-size="18" fill="#262626">10</text></g>
</svg>
</body></html>
